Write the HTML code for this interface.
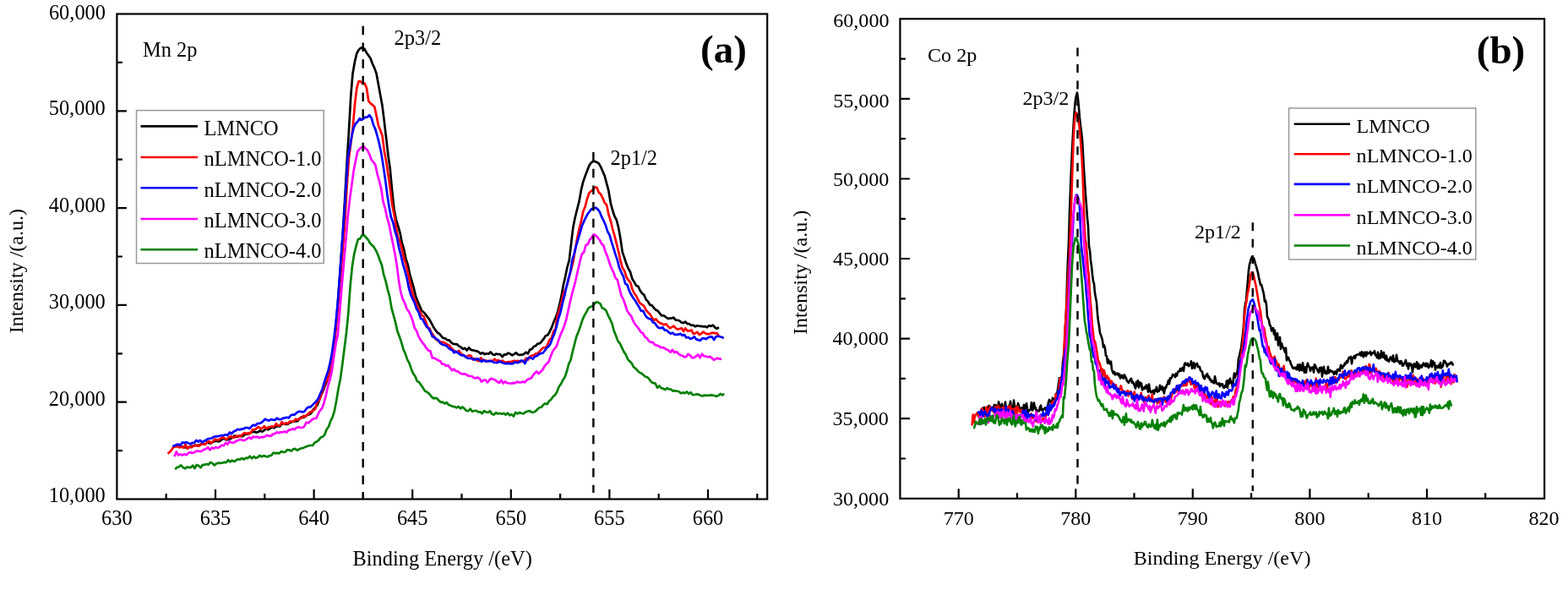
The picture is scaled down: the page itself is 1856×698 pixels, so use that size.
<!DOCTYPE html><html><head><meta charset="utf-8"><title>XPS spectra</title><style>html,body{margin:0;padding:0;background:#fff;}svg{display:block;filter:blur(0.35px);}text{font-family:"Liberation Serif","Times New Roman",serif;fill:#000;}</style></head><body>
<svg width="1856" height="698" viewBox="0 0 1856 698">
<rect x="0" y="0" width="1856" height="698" fill="#ffffff"/>
<path d="M205.5 527.4 L207.8 527.8 L210.2 527.8 L212.5 528.9 L214.8 528.4 L217.2 528.8 L219.5 529.5 L221.8 529.6 L224.1 529.2 L226.5 528.1 L228.8 527.4 L231.1 526.9 L233.5 526.8 L235.8 526.6 L238.1 525.2 L240.5 524.6 L242.8 525.7 L245.1 523.1 L247.4 524.3 L249.8 524.5 L252.1 522.6 L254.4 521.9 L256.8 521.7 L259.1 522.4 L261.4 521.0 L263.8 518.7 L266.1 519.5 L268.4 520.4 L270.7 519.8 L273.1 518.9 L275.4 517.6 L277.7 515.4 L280.1 516.9 L282.4 515.9 L284.7 515.5 L287.1 516.3 L289.4 514.2 L291.7 513.7 L294.0 513.4 L296.4 512.0 L298.7 511.1 L301.0 510.6 L303.4 511.7 L305.7 511.0 L308.0 509.5 L310.4 510.7 L312.7 509.1 L315.0 507.0 L317.3 508.3 L319.7 507.0 L322.0 505.1 L324.3 506.3 L326.7 504.8 L329.0 504.1 L331.3 504.5 L333.7 501.2 L336.0 501.5 L338.3 501.8 L340.6 501.8 L343.0 500.2 L345.3 499.2 L347.6 498.3 L350.0 498.4 L352.3 498.2 L354.6 495.1 L357.0 493.4 L359.3 493.9 L361.6 492.5 L363.9 490.5 L366.3 490.3 L368.6 488.4 L370.9 484.5 L373.3 481.9 L375.6 479.3 L377.9 473.6 L380.3 467.0 L382.6 462.3 L384.9 455.6 L387.2 450.4 L389.6 441.3 L391.9 430.2 L394.2 415.8 L396.6 395.5 L398.9 370.6 L401.2 340.6 L403.6 308.4 L405.9 273.7 L408.2 235.0 L410.5 193.5 L412.9 156.2 L415.2 114.7 L417.5 87.2 L419.9 73.3 L422.2 63.5 L424.5 59.1 L426.9 56.8 L429.2 56.4 L431.5 57.9 L433.8 62.3 L436.2 65.6 L438.5 69.0 L440.8 75.3 L443.2 80.4 L445.5 86.7 L447.8 99.2 L450.2 112.6 L452.5 125.1 L454.8 143.4 L457.1 163.2 L459.5 184.0 L461.8 200.3 L464.1 225.3 L466.5 247.4 L468.8 259.6 L471.1 267.0 L473.5 275.3 L475.8 287.5 L478.1 294.7 L480.4 306.1 L482.8 313.3 L485.1 324.7 L487.4 332.4 L489.8 340.7 L492.1 350.6 L494.4 356.2 L496.8 361.9 L499.1 367.6 L501.4 369.3 L503.7 371.9 L506.1 375.1 L508.4 378.2 L510.7 382.3 L513.1 387.0 L515.4 390.4 L517.7 393.5 L520.1 394.9 L522.4 397.7 L524.7 400.0 L527.0 400.3 L529.4 402.3 L531.7 402.4 L534.0 405.2 L536.4 406.9 L538.7 407.1 L541.0 407.3 L543.4 409.6 L545.7 410.7 L548.0 412.9 L550.3 411.8 L552.7 414.5 L555.0 411.2 L557.3 413.9 L559.7 414.3 L562.0 414.9 L564.3 415.3 L566.7 416.4 L569.0 418.6 L571.3 417.3 L573.6 419.1 L576.0 418.2 L578.3 418.7 L580.6 416.5 L583.0 419.2 L585.3 420.0 L587.6 418.5 L590.0 419.2 L592.3 419.2 L594.6 422.2 L596.9 419.3 L599.3 419.6 L601.6 417.6 L603.9 418.7 L606.3 420.4 L608.6 418.9 L610.9 417.3 L613.3 419.7 L615.6 419.9 L617.9 419.7 L620.2 418.9 L622.6 416.7 L624.9 418.5 L627.2 413.6 L629.6 413.0 L631.9 409.9 L634.2 409.0 L636.6 406.5 L638.9 406.4 L641.2 403.8 L643.5 400.9 L645.9 397.2 L648.2 396.5 L650.5 392.7 L652.9 387.7 L655.2 381.4 L657.5 376.4 L659.9 369.8 L662.2 360.7 L664.5 350.4 L666.8 337.2 L669.2 327.2 L671.5 315.8 L673.8 307.9 L676.2 287.0 L678.5 268.2 L680.8 257.0 L683.2 247.3 L685.5 238.4 L687.8 225.4 L690.1 215.6 L692.5 208.6 L694.8 202.7 L697.1 196.5 L699.5 192.7 L701.8 190.9 L704.1 190.9 L706.5 192.0 L708.8 193.4 L711.1 197.4 L713.4 202.8 L715.8 208.3 L718.1 217.2 L720.4 225.7 L722.8 240.2 L725.1 248.8 L727.4 255.7 L729.8 260.3 L732.1 269.2 L734.4 282.2 L736.7 298.1 L739.1 305.1 L741.4 312.1 L743.7 317.8 L746.1 321.8 L748.4 330.0 L750.7 333.6 L753.1 337.9 L755.4 338.8 L757.7 343.8 L760.0 347.1 L762.4 348.9 L764.7 354.4 L767.0 356.7 L769.4 360.8 L771.7 361.2 L774.0 364.4 L776.4 366.7 L778.7 367.8 L781.0 370.9 L783.3 373.5 L785.7 373.4 L788.0 375.0 L790.3 376.8 L792.7 376.6 L795.0 376.4 L797.3 375.7 L799.7 378.7 L802.0 378.8 L804.3 379.5 L806.6 381.5 L809.0 382.1 L811.3 380.7 L813.6 383.2 L816.0 383.2 L818.3 385.0 L820.6 384.7 L823.0 386.3 L825.3 385.2 L827.6 385.8 L829.9 385.9 L832.3 386.3 L834.6 386.1 L836.9 387.4 L839.3 385.0 L841.6 385.9 L843.9 384.7 L846.3 387.5 L848.6 388.8 L850.9 387.1" fill="none" stroke="#000000" stroke-width="2.7" stroke-linejoin="round"/>
<path d="M198.6 536.7 L200.9 534.8 L203.3 532.1 L205.6 528.6 L207.9 528.4 L210.3 527.9 L212.6 529.5 L214.9 528.5 L217.2 529.7 L219.6 525.8 L221.9 530.9 L224.2 528.3 L226.6 529.3 L228.9 527.7 L231.2 526.8 L233.6 527.6 L235.9 527.6 L238.2 525.6 L240.5 525.2 L242.9 526.0 L245.2 523.2 L247.5 521.8 L249.9 524.2 L252.2 522.0 L254.5 519.5 L256.9 520.5 L259.2 520.2 L261.5 518.4 L263.8 517.2 L266.2 518.9 L268.5 519.6 L270.8 517.4 L273.2 516.2 L275.5 517.5 L277.8 517.6 L280.2 515.5 L282.5 516.2 L284.8 516.3 L287.1 513.8 L289.5 512.1 L291.8 513.1 L294.1 512.2 L296.5 512.7 L298.8 508.3 L301.1 508.3 L303.5 507.1 L305.8 504.9 L308.1 506.8 L310.4 506.7 L312.8 504.1 L315.1 506.9 L317.4 505.6 L319.8 505.0 L322.1 504.4 L324.4 505.0 L326.8 501.2 L329.1 503.7 L331.4 503.2 L333.7 499.2 L336.1 501.8 L338.4 500.3 L340.7 501.2 L343.1 498.7 L345.4 498.6 L347.7 498.4 L350.1 495.7 L352.4 496.9 L354.7 494.8 L357.0 494.6 L359.4 491.8 L361.7 492.9 L364.0 490.7 L366.4 487.8 L368.7 486.9 L371.0 485.4 L373.4 483.4 L375.7 474.8 L378.0 473.4 L380.3 466.7 L382.7 459.6 L385.0 452.4 L387.3 449.9 L389.7 438.8 L392.0 432.3 L394.3 421.2 L396.7 397.7 L399.0 376.3 L401.3 347.9 L403.6 320.9 L406.0 292.1 L408.3 261.5 L410.6 220.7 L413.0 187.4 L415.3 169.6 L417.6 151.2 L420.0 123.6 L422.3 104.1 L424.6 96.1 L426.9 96.4 L429.3 99.0 L431.6 98.6 L433.9 103.9 L436.3 119.7 L438.6 122.5 L440.9 124.0 L443.3 126.4 L445.6 136.8 L447.9 148.5 L450.2 154.0 L452.6 160.9 L454.9 178.9 L457.2 191.3 L459.6 207.6 L461.9 223.9 L464.2 242.3 L466.6 254.0 L468.9 269.2 L471.2 281.4 L473.5 286.0 L475.9 295.3 L478.2 306.0 L480.5 312.9 L482.9 323.4 L485.2 333.4 L487.5 343.6 L489.9 352.5 L492.2 357.1 L494.5 364.0 L496.8 367.2 L499.2 373.2 L501.5 374.2 L503.8 379.7 L506.2 387.1 L508.5 388.7 L510.8 393.8 L513.2 397.0 L515.5 401.0 L517.8 402.6 L520.1 404.8 L522.5 404.5 L524.8 404.9 L527.1 406.0 L529.5 407.7 L531.8 408.5 L534.1 411.4 L536.5 414.0 L538.8 416.2 L541.1 416.5 L543.4 415.0 L545.8 418.6 L548.1 419.8 L550.4 421.8 L552.8 421.6 L555.1 420.4 L557.4 420.8 L559.8 425.5 L562.1 424.1 L564.4 426.3 L566.7 427.3 L569.1 423.5 L571.4 425.8 L573.7 426.3 L576.1 426.9 L578.4 427.2 L580.7 426.9 L583.1 427.0 L585.4 424.7 L587.7 426.8 L590.0 426.1 L592.4 427.5 L594.7 426.7 L597.0 428.4 L599.4 428.7 L601.7 428.0 L604.0 428.0 L606.4 427.6 L608.7 426.8 L611.0 427.3 L613.3 426.8 L615.7 428.1 L618.0 427.3 L620.3 427.5 L622.7 423.6 L625.0 425.6 L627.3 421.8 L629.7 420.6 L632.0 420.2 L634.3 418.4 L636.6 418.3 L639.0 415.4 L641.3 412.8 L643.6 411.0 L646.0 411.8 L648.3 407.0 L650.6 401.8 L653.0 399.4 L655.3 391.6 L657.6 388.8 L659.9 372.9 L662.3 365.7 L664.6 357.7 L666.9 347.2 L669.3 342.6 L671.6 335.9 L673.9 327.0 L676.3 318.1 L678.6 309.1 L680.9 294.8 L683.2 282.1 L685.6 270.6 L687.9 261.9 L690.2 250.4 L692.6 244.6 L694.9 235.5 L697.2 228.7 L699.6 226.1 L701.9 224.6 L704.2 221.5 L706.5 221.8 L708.9 227.9 L711.2 229.8 L713.5 234.6 L715.9 240.2 L718.2 242.7 L720.5 254.2 L722.9 261.5 L725.2 271.0 L727.5 279.2 L729.8 288.3 L732.2 297.9 L734.5 308.7 L736.8 316.9 L739.2 320.5 L741.5 327.8 L743.8 331.4 L746.2 334.2 L748.5 342.3 L750.8 347.2 L753.1 350.0 L755.5 355.0 L757.8 359.1 L760.1 360.3 L762.5 362.3 L764.8 367.0 L767.1 369.6 L769.5 371.8 L771.8 375.9 L774.1 378.9 L776.4 377.4 L778.8 380.5 L781.1 382.1 L783.4 382.9 L785.8 384.4 L788.1 383.1 L790.4 385.6 L792.8 388.2 L795.1 387.1 L797.4 385.6 L799.7 388.1 L802.1 389.7 L804.4 389.0 L806.7 388.2 L809.1 392.0 L811.4 388.3 L813.7 391.6 L816.1 391.4 L818.4 390.4 L820.7 394.9 L823.0 394.4 L825.4 392.8 L827.7 396.0 L830.0 394.8 L832.4 392.6 L834.7 394.2 L837.0 395.2 L839.4 395.2 L841.7 394.1 L844.0 393.6 L846.3 394.3 L848.7 394.2 L851.0 397.7" fill="none" stroke="#ff0000" stroke-width="2.7" stroke-linejoin="round"/>
<path d="M204.3 528.0 L206.6 527.4 L209.0 526.0 L211.3 525.7 L213.6 526.6 L216.0 523.4 L218.3 524.0 L220.6 523.1 L222.9 524.3 L225.3 525.3 L227.6 523.9 L229.9 524.0 L232.3 520.9 L234.6 522.6 L236.9 520.9 L239.3 523.2 L241.6 521.6 L243.9 520.9 L246.2 519.0 L248.6 518.9 L250.9 518.3 L253.2 516.7 L255.6 516.2 L257.9 516.3 L260.2 515.5 L262.6 515.2 L264.9 515.1 L267.2 514.2 L269.5 515.1 L271.9 511.5 L274.2 513.2 L276.5 510.5 L278.9 509.6 L281.2 507.8 L283.5 508.4 L285.9 507.6 L288.2 507.4 L290.5 506.0 L292.8 506.0 L295.2 507.1 L297.5 504.7 L299.8 502.7 L302.2 503.4 L304.5 501.2 L306.8 501.0 L309.2 500.1 L311.5 498.2 L313.8 495.8 L316.1 497.0 L318.5 497.6 L320.8 496.1 L323.1 496.7 L325.5 496.9 L327.8 494.7 L330.1 496.2 L332.5 496.1 L334.8 494.9 L337.1 494.4 L339.4 493.8 L341.8 494.4 L344.1 491.5 L346.4 490.6 L348.8 490.6 L351.1 488.3 L353.4 486.9 L355.8 486.9 L358.1 487.5 L360.4 486.7 L362.7 483.4 L365.1 481.7 L367.4 481.6 L369.7 479.4 L372.1 476.9 L374.4 474.7 L376.7 471.6 L379.1 465.8 L381.4 460.8 L383.7 452.9 L386.0 445.7 L388.4 438.9 L390.7 429.4 L393.0 417.0 L395.4 399.8 L397.7 379.6 L400.0 355.3 L402.4 321.8 L404.7 290.0 L407.0 260.2 L409.3 224.7 L411.7 186.9 L414.0 174.4 L416.3 161.3 L418.7 151.0 L421.0 146.1 L423.3 144.0 L425.7 140.1 L428.0 142.0 L430.3 140.3 L432.6 138.7 L435.0 138.7 L437.3 136.2 L439.6 139.5 L442.0 147.7 L444.3 152.9 L446.6 161.0 L449.0 170.2 L451.3 181.1 L453.6 195.6 L455.9 211.2 L458.3 229.7 L460.6 244.8 L462.9 257.0 L465.3 263.6 L467.6 273.6 L469.9 280.9 L472.3 293.6 L474.6 302.2 L476.9 312.3 L479.2 320.2 L481.6 329.1 L483.9 340.7 L486.2 348.8 L488.6 353.9 L490.9 358.8 L493.2 365.7 L495.6 369.3 L497.9 376.8 L500.2 377.7 L502.5 382.1 L504.9 386.5 L507.2 388.4 L509.5 392.5 L511.9 398.3 L514.2 399.1 L516.5 401.0 L518.9 402.4 L521.2 406.0 L523.5 407.5 L525.8 408.3 L528.2 408.9 L530.5 411.2 L532.8 413.2 L535.2 414.0 L537.5 417.3 L539.8 415.7 L542.2 417.6 L544.5 419.6 L546.8 420.6 L549.1 420.2 L551.5 422.5 L553.8 423.9 L556.1 423.8 L558.5 424.1 L560.8 425.3 L563.1 425.4 L565.5 424.3 L567.8 425.9 L570.1 428.0 L572.4 425.9 L574.8 427.6 L577.1 427.5 L579.4 427.2 L581.8 427.2 L584.1 428.6 L586.4 429.0 L588.8 429.2 L591.1 427.4 L593.4 428.7 L595.7 429.5 L598.1 430.2 L600.4 429.9 L602.7 430.1 L605.1 430.4 L607.4 430.1 L609.7 428.3 L612.1 429.3 L614.4 428.4 L616.7 426.6 L619.0 426.9 L621.4 430.1 L623.7 425.4 L626.0 422.9 L628.4 423.4 L630.7 424.6 L633.0 421.8 L635.4 421.2 L637.7 419.2 L640.0 418.0 L642.3 417.8 L644.7 415.2 L647.0 411.7 L649.3 409.9 L651.7 406.4 L654.0 399.9 L656.3 394.4 L658.7 386.8 L661.0 377.0 L663.3 370.1 L665.6 360.0 L668.0 350.7 L670.3 340.2 L672.6 330.6 L675.0 322.0 L677.3 307.9 L679.6 300.3 L682.0 290.8 L684.3 283.2 L686.6 275.4 L688.9 267.2 L691.3 261.7 L693.6 256.9 L695.9 252.7 L698.3 249.5 L700.6 247.0 L702.9 246.2 L705.3 245.7 L707.6 247.6 L709.9 250.8 L712.2 256.7 L714.6 261.2 L716.9 266.7 L719.2 273.8 L721.6 278.1 L723.9 286.4 L726.2 293.4 L728.6 301.4 L730.9 308.1 L733.2 317.3 L735.5 322.4 L737.9 327.4 L740.2 335.6 L742.5 337.0 L744.9 344.2 L747.2 348.8 L749.5 352.5 L751.9 355.6 L754.2 359.7 L756.5 363.2 L758.8 368.0 L761.2 367.7 L763.5 372.5 L765.8 375.6 L768.2 377.0 L770.5 377.6 L772.8 381.2 L775.2 382.3 L777.5 385.7 L779.8 388.0 L782.1 388.1 L784.5 387.4 L786.8 390.6 L789.1 390.7 L791.5 393.1 L793.8 394.7 L796.1 393.6 L798.5 395.9 L800.8 395.9 L803.1 395.7 L805.4 394.8 L807.8 396.9 L810.1 396.0 L812.4 399.5 L814.8 399.0 L817.1 400.9 L819.4 400.2 L821.8 398.2 L824.1 401.4 L826.4 402.1 L828.7 403.1 L831.1 400.3 L833.4 400.3 L835.7 401.1 L838.1 399.4 L840.4 398.5 L842.7 398.3 L845.1 402.0 L847.4 398.2 L849.7 397.7 L852.0 398.3 L854.4 398.8 L856.7 400.2" fill="none" stroke="#0000ff" stroke-width="2.7" stroke-linejoin="round"/>
<path d="M206.5 540.0 L208.8 534.4 L211.2 538.6 L213.5 537.4 L215.8 538.5 L218.2 537.1 L220.5 538.4 L222.8 536.1 L225.1 535.1 L227.5 535.9 L229.8 535.3 L232.1 533.9 L234.5 533.5 L236.8 534.1 L239.1 533.5 L241.5 531.7 L243.8 531.2 L246.1 529.1 L248.4 532.3 L250.8 529.6 L253.1 530.6 L255.4 529.0 L257.8 529.9 L260.1 528.7 L262.4 526.7 L264.8 527.2 L267.1 523.9 L269.4 525.7 L271.7 522.1 L274.1 523.6 L276.4 523.8 L278.7 522.3 L281.1 521.2 L283.4 520.2 L285.7 520.2 L288.1 521.2 L290.4 520.5 L292.7 518.8 L295.0 517.4 L297.4 519.1 L299.7 516.5 L302.0 517.2 L304.4 516.7 L306.7 518.1 L309.0 517.2 L311.4 517.1 L313.7 516.5 L316.0 514.9 L318.3 515.7 L320.7 516.0 L323.0 513.5 L325.3 513.2 L327.7 511.4 L330.0 512.1 L332.3 511.4 L334.7 511.3 L337.0 510.4 L339.3 511.5 L341.6 508.9 L344.0 508.4 L346.3 507.4 L348.6 508.1 L351.0 506.0 L353.3 505.2 L355.6 506.0 L358.0 505.8 L360.3 504.3 L362.6 499.7 L364.9 500.3 L367.3 498.5 L369.6 496.3 L371.9 495.0 L374.3 495.0 L376.6 489.7 L378.9 485.7 L381.3 482.9 L383.6 476.2 L385.9 467.3 L388.2 456.8 L390.6 448.7 L392.9 438.8 L395.2 422.1 L397.6 406.3 L399.9 395.6 L402.2 368.0 L404.6 338.7 L406.9 312.0 L409.2 286.7 L411.5 258.6 L413.9 236.4 L416.2 220.0 L418.5 202.8 L420.9 190.2 L423.2 179.4 L425.5 176.4 L427.9 174.5 L430.2 172.9 L432.5 175.5 L434.8 177.5 L437.2 182.3 L439.5 188.8 L441.8 191.6 L444.2 194.7 L446.5 205.3 L448.8 213.6 L451.2 222.9 L453.5 238.5 L455.8 246.1 L458.1 257.0 L460.5 265.2 L462.8 277.2 L465.1 288.3 L467.5 300.5 L469.8 313.9 L472.1 332.8 L474.5 346.3 L476.8 354.0 L479.1 358.4 L481.4 365.2 L483.8 368.4 L486.1 373.0 L488.4 379.2 L490.8 388.2 L493.1 391.4 L495.4 397.9 L497.8 402.0 L500.1 405.5 L502.4 408.2 L504.7 411.8 L507.1 414.7 L509.4 415.4 L511.7 423.3 L514.1 423.7 L516.4 424.8 L518.7 426.3 L521.1 427.3 L523.4 430.7 L525.7 430.8 L528.0 432.9 L530.4 432.0 L532.7 435.2 L535.0 438.1 L537.4 436.8 L539.7 439.0 L542.0 439.3 L544.4 441.4 L546.7 442.4 L549.0 442.3 L551.3 442.6 L553.7 444.4 L556.0 445.0 L558.3 445.0 L560.7 446.9 L563.0 447.4 L565.3 446.5 L567.7 447.9 L570.0 451.7 L572.3 449.8 L574.6 449.5 L577.0 452.5 L579.3 449.6 L581.6 447.7 L584.0 448.7 L586.3 449.5 L588.6 451.8 L591.0 452.9 L593.3 449.7 L595.6 453.6 L597.9 451.3 L600.3 453.1 L602.6 453.5 L604.9 453.6 L607.3 453.2 L609.6 453.3 L611.9 451.5 L614.3 452.5 L616.6 452.5 L618.9 451.5 L621.2 452.4 L623.6 449.7 L625.9 448.2 L628.2 447.8 L630.6 444.7 L632.9 441.6 L635.2 439.4 L637.6 442.0 L639.9 439.7 L642.2 437.7 L644.5 433.3 L646.9 430.6 L649.2 428.5 L651.5 422.5 L653.9 416.3 L656.2 412.6 L658.5 410.3 L660.9 403.1 L663.2 396.6 L665.5 391.6 L667.8 385.7 L670.2 378.3 L672.5 367.5 L674.8 357.1 L677.2 347.2 L679.5 339.2 L681.8 329.8 L684.2 319.0 L686.5 309.1 L688.8 300.4 L691.1 298.4 L693.5 290.0 L695.8 289.1 L698.1 283.5 L700.5 280.8 L702.8 277.1 L705.1 278.5 L707.5 281.1 L709.8 284.0 L712.1 288.4 L714.4 290.5 L716.8 298.4 L719.1 303.6 L721.4 311.0 L723.8 317.4 L726.1 321.8 L728.4 328.6 L730.8 331.0 L733.1 340.0 L735.4 349.6 L737.7 353.9 L740.1 360.5 L742.4 367.6 L744.7 371.4 L747.1 373.8 L749.4 379.5 L751.7 383.5 L754.1 386.4 L756.4 389.5 L758.7 393.0 L761.0 394.2 L763.4 398.7 L765.7 399.9 L768.0 403.4 L770.4 405.0 L772.7 404.9 L775.0 407.8 L777.4 408.6 L779.7 409.2 L782.0 411.1 L784.3 410.9 L786.7 412.0 L789.0 413.4 L791.3 414.4 L793.7 416.8 L796.0 413.9 L798.3 417.1 L800.7 416.0 L803.0 418.5 L805.3 420.2 L807.6 420.7 L810.0 422.4 L812.3 422.1 L814.6 418.8 L817.0 420.6 L819.3 423.4 L821.6 423.2 L824.0 421.4 L826.3 419.4 L828.6 423.4 L830.9 418.6 L833.3 421.4 L835.6 421.5 L837.9 422.5 L840.3 421.8 L842.6 423.5 L844.9 425.9 L847.3 424.6 L849.6 423.7 L851.9 424.9 L854.2 424.5" fill="none" stroke="#ff00ff" stroke-width="2.7" stroke-linejoin="round"/>
<path d="M207.2 555.3 L209.5 553.1 L211.9 552.2 L214.2 550.4 L216.5 552.9 L218.9 554.3 L221.2 552.7 L223.5 552.9 L225.8 553.1 L228.2 550.6 L230.5 554.2 L232.8 549.9 L235.2 551.0 L237.5 553.3 L239.8 549.9 L242.2 549.9 L244.5 549.0 L246.8 549.7 L249.1 546.8 L251.5 548.2 L253.8 550.5 L256.1 548.5 L258.5 547.7 L260.8 547.9 L263.1 547.6 L265.5 546.9 L267.8 547.1 L270.1 544.3 L272.4 546.4 L274.8 544.7 L277.1 546.0 L279.4 544.7 L281.8 543.2 L284.1 543.7 L286.4 542.0 L288.8 543.5 L291.1 541.7 L293.4 542.1 L295.7 539.6 L298.1 542.4 L300.4 540.1 L302.7 541.8 L305.1 541.1 L307.4 538.8 L309.7 540.3 L312.1 539.1 L314.4 539.9 L316.7 540.5 L319.0 539.1 L321.4 538.7 L323.7 535.5 L326.0 536.3 L328.4 535.9 L330.7 536.3 L333.0 534.1 L335.4 535.0 L337.7 534.6 L340.0 532.1 L342.3 532.3 L344.7 533.6 L347.0 531.4 L349.3 530.9 L351.7 532.7 L354.0 531.5 L356.3 530.4 L358.7 530.1 L361.0 528.9 L363.3 528.0 L365.6 527.2 L368.0 527.0 L370.3 526.8 L372.6 523.4 L375.0 522.4 L377.3 520.6 L379.6 517.5 L382.0 516.8 L384.3 514.2 L386.6 508.0 L388.9 505.0 L391.3 498.1 L393.6 493.7 L395.9 486.1 L398.3 473.4 L400.6 459.3 L402.9 448.3 L405.3 430.7 L407.6 412.5 L409.9 394.5 L412.2 371.9 L414.6 338.4 L416.9 315.0 L419.2 300.6 L421.6 290.9 L423.9 283.0 L426.2 282.4 L428.6 278.3 L430.9 278.2 L433.2 280.8 L435.5 283.4 L437.9 287.5 L440.2 289.9 L442.5 292.1 L444.9 296.1 L447.2 301.0 L449.5 307.5 L451.9 313.6 L454.2 324.9 L456.5 332.4 L458.8 342.3 L461.2 350.9 L463.5 364.7 L465.8 372.9 L468.2 381.9 L470.5 392.2 L472.8 398.3 L475.2 405.1 L477.5 413.5 L479.8 418.4 L482.1 425.4 L484.5 429.7 L486.8 436.4 L489.1 441.9 L491.5 445.3 L493.8 451.1 L496.1 452.3 L498.5 455.8 L500.8 459.1 L503.1 462.8 L505.4 463.7 L507.8 465.6 L510.1 468.3 L512.4 471.1 L514.8 470.8 L517.1 471.2 L519.4 473.8 L521.8 475.9 L524.1 475.7 L526.4 477.5 L528.7 476.2 L531.1 479.0 L533.4 479.8 L535.7 480.9 L538.1 481.2 L540.4 482.3 L542.7 480.9 L545.1 483.4 L547.4 481.5 L549.7 483.4 L552.0 485.9 L554.4 486.2 L556.7 483.7 L559.0 486.8 L561.4 486.0 L563.7 485.9 L566.0 487.3 L568.4 487.4 L570.7 489.1 L573.0 486.1 L575.3 487.5 L577.7 488.0 L580.0 486.3 L582.3 489.8 L584.7 490.6 L587.0 488.2 L589.3 489.5 L591.7 489.0 L594.0 489.8 L596.3 488.9 L598.6 490.7 L601.0 488.6 L603.3 491.4 L605.6 490.3 L608.0 492.5 L610.3 487.9 L612.6 489.5 L615.0 488.0 L617.3 489.0 L619.6 489.4 L621.9 487.6 L624.3 486.7 L626.6 486.0 L628.9 487.5 L631.3 487.9 L633.6 486.8 L635.9 484.5 L638.3 482.3 L640.6 481.8 L642.9 479.1 L645.2 477.3 L647.6 478.2 L649.9 474.5 L652.2 472.7 L654.6 469.2 L656.9 467.5 L659.2 463.8 L661.6 457.5 L663.9 454.4 L666.2 449.8 L668.5 446.3 L670.9 439.5 L673.2 430.6 L675.5 426.0 L677.9 415.5 L680.2 406.4 L682.5 397.7 L684.9 392.0 L687.2 385.4 L689.5 378.1 L691.8 373.1 L694.2 369.1 L696.5 364.5 L698.8 363.1 L701.2 362.2 L703.5 359.5 L705.8 357.4 L708.2 357.8 L710.5 359.3 L712.8 364.5 L715.1 365.3 L717.5 367.6 L719.8 373.2 L722.1 377.5 L724.5 383.0 L726.8 391.5 L729.1 397.2 L731.5 403.6 L733.8 406.3 L736.1 411.1 L738.4 416.1 L740.8 419.5 L743.1 425.1 L745.4 427.5 L747.8 429.9 L750.1 434.4 L752.4 435.8 L754.8 438.7 L757.1 440.7 L759.4 441.8 L761.7 443.7 L764.1 445.7 L766.4 446.3 L768.7 448.9 L771.1 452.0 L773.4 453.2 L775.7 453.6 L778.1 458.8 L780.4 456.4 L782.7 459.1 L785.0 459.8 L787.4 461.0 L789.7 459.1 L792.0 460.5 L794.4 460.7 L796.7 462.6 L799.0 462.2 L801.4 462.7 L803.7 463.3 L806.0 465.3 L808.3 464.4 L810.7 465.1 L813.0 463.5 L815.3 465.8 L817.7 464.2 L820.0 467.2 L822.3 467.0 L824.7 466.4 L827.0 466.6 L829.3 468.0 L831.6 468.4 L834.0 467.6 L836.3 467.8 L838.6 467.8 L841.0 467.4 L843.3 467.7 L845.6 468.0 L848.0 469.0 L850.3 467.9 L852.6 465.9 L854.9 467.4 L857.3 465.8" fill="none" stroke="#008000" stroke-width="2.7" stroke-linejoin="round"/>
<line x1="429.7" y1="30.8" x2="429.7" y2="590.5" stroke="#000" stroke-width="2.4" stroke-dasharray="10.5 9.19"/>
<line x1="702.4" y1="180" x2="702.4" y2="583" stroke="#000" stroke-width="2.4" stroke-dasharray="10.5 9.19"/>
<rect x="138.4" y="16.5" width="769.8" height="574" fill="none" stroke="#000" stroke-width="2.2"/>
<path d="M196.7 590.5V584M255 590.5V579M313.3 590.5V584M371.6 590.5V579M429.9 590.5V584M488.2 590.5V579M546.5 590.5V584M604.8 590.5V579M663.1 590.5V584M721.4 590.5V579M779.7 590.5V584M838 590.5V579M896.3 590.5V584M138.4 533.1H144.9M138.4 475.7H149.9M138.4 418.3H144.9M138.4 360.9H149.9M138.4 303.5H144.9M138.4 246.1H149.9M138.4 188.7H144.9M138.4 131.3H149.9M138.4 73.9H144.9" stroke="#000" stroke-width="2.2" fill="none"/>
<text x="138.4" y="621" font-size="24.4" text-anchor="middle">630</text>
<text x="255" y="621" font-size="24.4" text-anchor="middle">635</text>
<text x="371.6" y="621" font-size="24.4" text-anchor="middle">640</text>
<text x="488.2" y="621" font-size="24.4" text-anchor="middle">645</text>
<text x="604.8" y="621" font-size="24.4" text-anchor="middle">650</text>
<text x="721.4" y="621" font-size="24.4" text-anchor="middle">655</text>
<text x="838" y="621" font-size="24.4" text-anchor="middle">660</text>
<text x="125" y="22.8" font-size="24.4" text-anchor="end">60,000</text>
<text x="124.8" y="135.6" font-size="24.4" text-anchor="end">50,000</text>
<text x="124.8" y="251.1" font-size="24.4" text-anchor="end">40,000</text>
<text x="124.8" y="364.6" font-size="24.4" text-anchor="end">30,000</text>
<text x="124.8" y="479.6" font-size="24.4" text-anchor="end">20,000</text>
<text x="124.8" y="593.5" font-size="24.4" text-anchor="end">10,000</text>
<rect x="161.5" y="130.6" width="221.7" height="180.9" fill="#fff" stroke="#999999" stroke-width="1.5"/>
<line x1="166.5" y1="149.4" x2="234" y2="149.4" stroke="#000000" stroke-width="2.6"/>
<text x="241.6" y="159.6" font-size="24.4">LMNCO</text>
<line x1="166.5" y1="186" x2="234" y2="186" stroke="#ff0000" stroke-width="2.6"/>
<text x="241.6" y="196.2" font-size="24.4">nLMNCO-1.0</text>
<line x1="166.5" y1="222.3" x2="234" y2="222.3" stroke="#0000ff" stroke-width="2.6"/>
<text x="241.6" y="232.5" font-size="24.4">nLMNCO-2.0</text>
<line x1="166.5" y1="259" x2="234" y2="259" stroke="#ff00ff" stroke-width="2.6"/>
<text x="241.6" y="269.2" font-size="24.4">nLMNCO-3.0</text>
<line x1="166.5" y1="295.2" x2="234" y2="295.2" stroke="#008000" stroke-width="2.6"/>
<text x="241.6" y="305.4" font-size="24.4">nLMNCO-4.0</text>
<text x="169" y="67" font-size="24.4">Mn 2p</text>
<text x="466.6" y="52.6" font-size="24.4">2p3/2</text>
<text x="722.5" y="195.1" font-size="24.4">2p1/2</text>
<text x="829" y="74.4" font-size="47" font-weight="bold">(a)</text>
<text x="417.5" y="668.5" font-size="24.4">Binding Energy /(eV)</text>
<text transform="translate(26.9 394.3) rotate(-90)" x="0" y="0" font-size="24">Intensity /(a.u.)</text>
<path d="M1157.0 489.0 L1158.0 492.3 L1159.0 491.8 L1160.0 487.9 L1161.0 487.7 L1162.0 484.6 L1163.0 482.9 L1164.0 482.6 L1165.0 481.9 L1166.0 487.2 L1167.0 484.0 L1168.0 484.3 L1169.0 481.9 L1170.0 480.5 L1171.0 480.0 L1172.0 481.0 L1173.0 485.1 L1174.0 483.3 L1175.0 481.9 L1176.0 482.4 L1177.0 478.9 L1178.0 486.6 L1179.0 479.4 L1180.0 483.0 L1181.0 489.1 L1182.0 475.4 L1183.0 478.7 L1184.0 480.6 L1185.0 483.0 L1186.0 477.7 L1187.0 482.0 L1188.0 482.5 L1189.0 483.1 L1190.0 475.6 L1191.0 484.4 L1192.0 487.1 L1193.0 483.7 L1194.0 480.3 L1195.0 480.6 L1196.0 474.7 L1197.0 483.7 L1198.0 486.7 L1199.0 484.2 L1200.0 473.6 L1201.0 481.0 L1202.0 481.9 L1203.0 480.8 L1204.0 485.1 L1205.0 477.1 L1206.0 480.0 L1207.0 483.8 L1208.0 484.9 L1209.0 482.5 L1210.0 485.1 L1211.0 483.5 L1212.0 478.9 L1213.0 485.8 L1214.0 480.5 L1215.0 477.3 L1216.0 483.3 L1217.0 487.5 L1218.0 485.2 L1219.0 485.5 L1220.0 483.5 L1221.0 476.1 L1222.0 485.5 L1223.0 484.4 L1224.0 476.6 L1225.0 482.7 L1226.0 482.3 L1227.0 488.2 L1228.0 485.6 L1229.0 486.3 L1230.0 486.2 L1231.0 481.6 L1232.0 479.7 L1233.0 485.4 L1234.0 484.1 L1235.0 484.6 L1236.0 483.8 L1237.0 482.5 L1238.0 485.1 L1239.0 483.5 L1240.0 480.6 L1241.0 476.2 L1242.0 472.9 L1243.0 474.5 L1244.0 476.1 L1245.0 476.9 L1246.0 470.8 L1247.0 472.0 L1248.0 471.6 L1249.0 473.5 L1250.0 465.7 L1251.0 467.1 L1252.0 461.0 L1253.0 453.8 L1254.0 447.3 L1255.0 450.4 L1256.0 446.8 L1257.0 445.1 L1258.0 427.9 L1259.0 421.4 L1260.0 408.4 L1261.0 386.9 L1262.0 367.4 L1263.0 335.5 L1264.0 307.2 L1265.0 286.7 L1266.0 251.4 L1267.0 224.7 L1268.0 199.9 L1269.0 177.9 L1270.0 159.0 L1271.0 142.7 L1272.0 128.4 L1273.0 117.8 L1274.0 113.0 L1275.0 109.6 L1276.0 116.6 L1277.0 127.9 L1278.0 139.4 L1279.0 148.5 L1280.0 156.3 L1281.0 164.9 L1282.0 182.4 L1283.0 200.4 L1284.0 215.3 L1285.0 230.5 L1286.0 243.4 L1287.0 257.4 L1288.0 267.6 L1289.0 291.0 L1290.0 296.0 L1291.0 307.9 L1292.0 315.1 L1293.0 324.7 L1294.0 332.6 L1295.0 335.5 L1296.0 346.8 L1297.0 352.2 L1298.0 357.5 L1299.0 371.2 L1300.0 380.1 L1301.0 385.4 L1302.0 393.8 L1303.0 396.2 L1304.0 399.2 L1305.0 402.8 L1306.0 410.6 L1307.0 408.5 L1308.0 412.1 L1309.0 420.8 L1310.0 421.2 L1311.0 429.7 L1312.0 425.6 L1313.0 429.1 L1314.0 430.3 L1315.0 427.7 L1316.0 437.1 L1317.0 439.7 L1318.0 441.9 L1319.0 439.8 L1320.0 443.4 L1321.0 441.9 L1322.0 442.9 L1323.0 441.6 L1324.0 444.2 L1325.0 442.5 L1326.0 447.6 L1327.0 444.4 L1328.0 443.9 L1329.0 447.1 L1330.0 447.7 L1331.0 443.4 L1332.0 445.7 L1333.0 447.5 L1334.0 450.8 L1335.0 451.7 L1336.0 452.9 L1337.0 450.3 L1338.0 449.1 L1339.0 447.8 L1340.0 452.7 L1341.0 451.6 L1342.0 454.4 L1343.0 456.5 L1344.0 459.7 L1345.0 451.8 L1346.0 456.4 L1347.0 450.3 L1348.0 458.5 L1349.0 452.3 L1350.0 455.8 L1351.0 453.4 L1352.0 461.4 L1353.0 458.9 L1354.0 460.2 L1355.0 457.6 L1356.0 459.5 L1357.0 455.6 L1358.0 457.8 L1359.0 463.6 L1360.0 454.6 L1361.0 460.6 L1362.0 464.3 L1363.0 464.2 L1364.0 463.4 L1365.0 461.8 L1366.0 465.9 L1367.0 461.4 L1368.0 462.3 L1369.0 457.7 L1370.0 463.6 L1371.0 461.8 L1372.0 462.6 L1373.0 455.8 L1374.0 458.6 L1375.0 461.1 L1376.0 457.4 L1377.0 462.0 L1378.0 465.4 L1379.0 458.5 L1380.0 459.1 L1381.0 455.6 L1382.0 454.4 L1383.0 450.1 L1384.0 454.3 L1385.0 447.2 L1386.0 448.0 L1387.0 446.3 L1388.0 443.1 L1389.0 443.4 L1390.0 443.9 L1391.0 446.1 L1392.0 441.9 L1393.0 444.6 L1394.0 440.8 L1395.0 439.2 L1396.0 439.3 L1397.0 436.2 L1398.0 438.8 L1399.0 435.8 L1400.0 434.9 L1401.0 439.0 L1402.0 430.6 L1403.0 429.5 L1404.0 431.4 L1405.0 432.0 L1406.0 429.9 L1407.0 433.2 L1408.0 431.6 L1409.0 431.8 L1410.0 427.2 L1411.0 435.9 L1412.0 431.5 L1413.0 429.0 L1414.0 435.7 L1415.0 432.1 L1416.0 430.4 L1417.0 430.0 L1418.0 434.1 L1419.0 433.6 L1420.0 434.0 L1421.0 438.1 L1422.0 439.2 L1423.0 439.6 L1424.0 445.1 L1425.0 447.5 L1426.0 448.3 L1427.0 444.0 L1428.0 444.4 L1429.0 442.2 L1430.0 446.6 L1431.0 445.4 L1432.0 449.3 L1433.0 448.7 L1434.0 451.9 L1435.0 450.5 L1436.0 452.5 L1437.0 453.4 L1438.0 445.3 L1439.0 449.8 L1440.0 454.0 L1441.0 453.8 L1442.0 454.8 L1443.0 453.3 L1444.0 457.2 L1445.0 454.2 L1446.0 455.1 L1447.0 454.3 L1448.0 458.4 L1449.0 458.8 L1450.0 456.4 L1451.0 457.6 L1452.0 450.5 L1453.0 458.9 L1454.0 450.1 L1455.0 453.7 L1456.0 447.9 L1457.0 452.6 L1458.0 451.8 L1459.0 458.7 L1460.0 448.1 L1461.0 441.5 L1462.0 446.6 L1463.0 442.0 L1464.0 442.7 L1465.0 437.0 L1466.0 423.9 L1467.0 421.6 L1468.0 416.1 L1469.0 412.0 L1470.0 404.5 L1471.0 396.1 L1472.0 385.5 L1473.0 367.4 L1474.0 359.0 L1475.0 355.8 L1476.0 343.2 L1477.0 331.9 L1478.0 319.7 L1479.0 312.9 L1480.0 309.6 L1481.0 305.9 L1482.0 303.8 L1483.0 304.8 L1484.0 305.5 L1485.0 308.2 L1486.0 312.5 L1487.0 315.1 L1488.0 318.8 L1489.0 322.7 L1490.0 328.0 L1491.0 332.4 L1492.0 336.9 L1493.0 336.7 L1494.0 340.2 L1495.0 344.1 L1496.0 348.4 L1497.0 356.8 L1498.0 355.4 L1499.0 360.7 L1500.0 374.7 L1501.0 376.7 L1502.0 378.9 L1503.0 384.8 L1504.0 385.4 L1505.0 391.4 L1506.0 390.8 L1507.0 388.0 L1508.0 395.7 L1509.0 390.7 L1510.0 401.9 L1511.0 399.6 L1512.0 394.2 L1513.0 408.5 L1514.0 401.7 L1515.0 398.9 L1516.0 412.9 L1517.0 406.2 L1518.0 409.8 L1519.0 411.0 L1520.0 413.6 L1521.0 416.7 L1522.0 411.6 L1523.0 426.4 L1524.0 422.7 L1525.0 422.7 L1526.0 426.5 L1527.0 426.9 L1528.0 430.9 L1529.0 432.5 L1530.0 435.2 L1531.0 435.9 L1532.0 434.9 L1533.0 436.2 L1534.0 434.5 L1535.0 437.2 L1536.0 431.8 L1537.0 431.6 L1538.0 438.6 L1539.0 431.4 L1540.0 437.1 L1541.0 438.1 L1542.0 429.4 L1543.0 436.6 L1544.0 440.8 L1545.0 434.4 L1546.0 440.8 L1547.0 432.9 L1548.0 429.7 L1549.0 433.6 L1550.0 433.9 L1551.0 439.0 L1552.0 435.7 L1553.0 434.5 L1554.0 434.5 L1555.0 440.6 L1556.0 431.2 L1557.0 432.8 L1558.0 435.3 L1559.0 436.9 L1560.0 439.2 L1561.0 440.7 L1562.0 435.3 L1563.0 439.0 L1564.0 434.5 L1565.0 445.7 L1566.0 438.0 L1567.0 433.9 L1568.0 441.4 L1569.0 438.9 L1570.0 442.3 L1571.0 441.5 L1572.0 433.9 L1573.0 441.3 L1574.0 438.2 L1575.0 438.0 L1576.0 439.6 L1577.0 439.2 L1578.0 440.2 L1579.0 442.7 L1580.0 439.5 L1581.0 439.9 L1582.0 442.8 L1583.0 437.2 L1584.0 438.3 L1585.0 436.5 L1586.0 438.8 L1587.0 431.7 L1588.0 434.2 L1589.0 435.6 L1590.0 432.6 L1591.0 432.7 L1592.0 429.5 L1593.0 430.3 L1594.0 427.1 L1595.0 428.8 L1596.0 425.1 L1597.0 422.9 L1598.0 423.7 L1599.0 421.8 L1600.0 430.4 L1601.0 424.2 L1602.0 422.6 L1603.0 421.1 L1604.0 424.0 L1605.0 420.0 L1606.0 420.0 L1607.0 419.3 L1608.0 419.6 L1609.0 419.5 L1610.0 417.1 L1611.0 420.7 L1612.0 416.2 L1613.0 420.7 L1614.0 422.3 L1615.0 416.8 L1616.0 416.9 L1617.0 421.3 L1618.0 416.5 L1619.0 418.5 L1620.0 418.0 L1621.0 417.6 L1622.0 415.9 L1623.0 420.1 L1624.0 418.5 L1625.0 417.2 L1626.0 417.5 L1627.0 415.2 L1628.0 420.2 L1629.0 420.0 L1630.0 423.2 L1631.0 416.7 L1632.0 424.2 L1633.0 419.7 L1634.0 423.6 L1635.0 415.3 L1636.0 421.3 L1637.0 422.8 L1638.0 417.1 L1639.0 423.4 L1640.0 425.5 L1641.0 420.7 L1642.0 426.6 L1643.0 425.5 L1644.0 427.7 L1645.0 424.2 L1646.0 422.4 L1647.0 424.6 L1648.0 427.0 L1649.0 420.5 L1650.0 428.3 L1651.0 427.5 L1652.0 427.4 L1653.0 419.8 L1654.0 425.4 L1655.0 427.9 L1656.0 427.6 L1657.0 430.4 L1658.0 427.1 L1659.0 427.6 L1660.0 432.7 L1661.0 432.3 L1662.0 429.9 L1663.0 429.1 L1664.0 425.9 L1665.0 432.6 L1666.0 430.0 L1667.0 436.5 L1668.0 429.9 L1669.0 432.1 L1670.0 430.3 L1671.0 433.3 L1672.0 440.4 L1673.0 431.8 L1674.0 430.3 L1675.0 434.2 L1676.0 434.0 L1677.0 428.3 L1678.0 436.2 L1679.0 430.4 L1680.0 436.2 L1681.0 433.8 L1682.0 432.0 L1683.0 434.5 L1684.0 431.7 L1685.0 429.5 L1686.0 431.7 L1687.0 433.2 L1688.0 429.9 L1689.0 433.5 L1690.0 430.2 L1691.0 435.1 L1692.0 433.3 L1693.0 432.4 L1694.0 426.4 L1695.0 434.2 L1696.0 427.2 L1697.0 431.4 L1698.0 429.1 L1699.0 437.6 L1700.0 432.9 L1701.0 433.8 L1702.0 434.9 L1703.0 431.9 L1704.0 435.0 L1705.0 429.0 L1706.0 435.4 L1707.0 434.4 L1708.0 432.8 L1709.0 426.8 L1710.0 427.0 L1711.0 428.7 L1712.0 430.5 L1713.0 433.5 L1714.0 430.8 L1715.0 430.6 L1716.0 430.9 L1717.0 429.0 L1718.0 428.5 L1719.0 429.6 L1720.0 432.7" fill="none" stroke="#000000" stroke-width="2.6" stroke-linejoin="round"/>
<path d="M1149.7 503.0 L1150.7 502.2 L1151.7 490.6 L1152.7 499.8 L1153.7 493.7 L1154.7 490.6 L1155.7 490.0 L1156.7 488.5 L1157.7 490.6 L1158.7 493.3 L1159.7 491.9 L1160.7 491.5 L1161.7 483.8 L1162.7 483.4 L1163.7 492.1 L1164.7 489.6 L1165.7 492.6 L1166.7 489.0 L1167.7 481.8 L1168.7 488.2 L1169.7 485.8 L1170.7 484.3 L1171.7 481.1 L1172.7 483.5 L1173.7 483.1 L1174.7 486.2 L1175.7 483.9 L1176.7 488.3 L1177.7 481.2 L1178.7 485.0 L1179.7 485.1 L1180.7 481.0 L1181.7 480.1 L1182.7 486.7 L1183.7 485.3 L1184.7 483.3 L1185.7 485.0 L1186.7 481.8 L1187.7 484.6 L1188.7 482.1 L1189.7 484.5 L1190.7 487.0 L1191.7 483.1 L1192.7 486.7 L1193.7 481.1 L1194.7 483.4 L1195.7 480.2 L1196.7 484.1 L1197.7 484.7 L1198.7 484.0 L1199.7 483.9 L1200.7 488.9 L1201.7 489.5 L1202.7 481.8 L1203.7 489.4 L1204.7 481.0 L1205.7 484.4 L1206.7 486.5 L1207.7 487.8 L1208.7 484.8 L1209.7 486.3 L1210.7 489.1 L1211.7 487.3 L1212.7 487.9 L1213.7 492.2 L1214.7 493.5 L1215.7 490.9 L1216.7 491.4 L1217.7 491.6 L1218.7 490.6 L1219.7 490.8 L1220.7 489.5 L1221.7 494.9 L1222.7 493.1 L1223.7 493.3 L1224.7 494.6 L1225.7 495.9 L1226.7 498.8 L1227.7 494.0 L1228.7 493.8 L1229.7 495.8 L1230.7 492.8 L1231.7 499.3 L1232.7 498.3 L1233.7 497.5 L1234.7 494.6 L1235.7 496.4 L1236.7 496.4 L1237.7 493.5 L1238.7 489.8 L1239.7 484.1 L1240.7 490.4 L1241.7 484.8 L1242.7 481.7 L1243.7 485.2 L1244.7 482.0 L1245.7 475.2 L1246.7 477.5 L1247.7 475.2 L1248.7 477.1 L1249.7 466.3 L1250.7 468.6 L1251.7 466.8 L1252.7 468.6 L1253.7 457.5 L1254.7 447.7 L1255.7 447.5 L1256.7 446.6 L1257.7 440.4 L1258.7 430.6 L1259.7 408.3 L1260.7 387.4 L1261.7 375.3 L1262.7 355.2 L1263.7 337.4 L1264.7 321.0 L1265.7 305.9 L1266.7 279.1 L1267.7 252.9 L1268.7 222.2 L1269.7 191.9 L1270.7 165.6 L1271.7 146.1 L1272.7 136.9 L1273.7 132.9 L1274.7 134.3 L1275.7 138.5 L1276.7 144.1 L1277.7 150.8 L1278.7 162.3 L1279.7 175.3 L1280.7 190.4 L1281.7 210.9 L1282.7 240.4 L1283.7 267.8 L1284.7 283.9 L1285.7 289.3 L1286.7 300.8 L1287.7 317.2 L1288.7 324.3 L1289.7 341.3 L1290.7 356.3 L1291.7 366.6 L1292.7 382.5 L1293.7 391.9 L1294.7 401.5 L1295.7 403.5 L1296.7 406.2 L1297.7 412.3 L1298.7 418.4 L1299.7 426.0 L1300.7 427.7 L1301.7 430.3 L1302.7 433.6 L1303.7 439.7 L1304.7 436.6 L1305.7 444.7 L1306.7 438.1 L1307.7 441.5 L1308.7 447.3 L1309.7 447.6 L1310.7 444.7 L1311.7 448.2 L1312.7 447.5 L1313.7 453.3 L1314.7 453.4 L1315.7 450.6 L1316.7 454.9 L1317.7 453.5 L1318.7 455.3 L1319.7 456.5 L1320.7 455.3 L1321.7 459.0 L1322.7 459.8 L1323.7 460.4 L1324.7 463.0 L1325.7 459.5 L1326.7 456.4 L1327.7 460.0 L1328.7 462.6 L1329.7 462.6 L1330.7 464.7 L1331.7 465.9 L1332.7 463.6 L1333.7 464.1 L1334.7 462.0 L1335.7 468.5 L1336.7 465.1 L1337.7 463.1 L1338.7 463.4 L1339.7 466.0 L1340.7 472.4 L1341.7 470.4 L1342.7 463.5 L1343.7 468.6 L1344.7 470.2 L1345.7 471.6 L1346.7 471.2 L1347.7 468.6 L1348.7 472.1 L1349.7 469.5 L1350.7 464.8 L1351.7 469.7 L1352.7 470.0 L1353.7 475.2 L1354.7 475.8 L1355.7 469.7 L1356.7 473.7 L1357.7 473.7 L1358.7 469.4 L1359.7 467.8 L1360.7 473.9 L1361.7 474.9 L1362.7 472.9 L1363.7 466.7 L1364.7 475.0 L1365.7 473.5 L1366.7 472.7 L1367.7 474.5 L1368.7 472.2 L1369.7 477.3 L1370.7 475.7 L1371.7 474.0 L1372.7 476.5 L1373.7 475.5 L1374.7 470.9 L1375.7 474.8 L1376.7 473.7 L1377.7 469.6 L1378.7 472.6 L1379.7 475.5 L1380.7 472.1 L1381.7 477.8 L1382.7 478.2 L1383.7 471.8 L1384.7 473.9 L1385.7 477.2 L1386.7 468.8 L1387.7 465.6 L1388.7 465.4 L1389.7 461.2 L1390.7 460.2 L1391.7 463.9 L1392.7 461.0 L1393.7 462.1 L1394.7 461.9 L1395.7 457.3 L1396.7 458.2 L1397.7 457.2 L1398.7 455.2 L1399.7 453.9 L1400.7 456.5 L1401.7 454.3 L1402.7 454.8 L1403.7 456.1 L1404.7 455.4 L1405.7 448.6 L1406.7 449.1 L1407.7 450.9 L1408.7 452.2 L1409.7 454.9 L1410.7 449.7 L1411.7 451.9 L1412.7 454.7 L1413.7 458.4 L1414.7 459.8 L1415.7 453.6 L1416.7 457.0 L1417.7 456.2 L1418.7 462.3 L1419.7 462.1 L1420.7 460.8 L1421.7 461.0 L1422.7 464.8 L1423.7 467.7 L1424.7 463.4 L1425.7 465.6 L1426.7 468.0 L1427.7 468.8 L1428.7 470.9 L1429.7 468.0 L1430.7 470.4 L1431.7 467.0 L1432.7 474.5 L1433.7 478.4 L1434.7 469.9 L1435.7 474.8 L1436.7 479.8 L1437.7 476.9 L1438.7 471.7 L1439.7 480.9 L1440.7 473.1 L1441.7 481.4 L1442.7 475.5 L1443.7 475.1 L1444.7 477.2 L1445.7 476.9 L1446.7 478.7 L1447.7 478.3 L1448.7 476.2 L1449.7 480.4 L1450.7 478.4 L1451.7 476.9 L1452.7 476.3 L1453.7 475.4 L1454.7 475.1 L1455.7 476.8 L1456.7 475.4 L1457.7 473.1 L1458.7 474.7 L1459.7 469.4 L1460.7 469.8 L1461.7 469.2 L1462.7 461.0 L1463.7 459.1 L1464.7 458.8 L1465.7 443.7 L1466.7 442.7 L1467.7 429.3 L1468.7 427.7 L1469.7 416.8 L1470.7 410.0 L1471.7 396.9 L1472.7 377.1 L1473.7 368.6 L1474.7 360.6 L1475.7 355.0 L1476.7 347.5 L1477.7 343.6 L1478.7 336.9 L1479.7 330.2 L1480.7 324.2 L1481.7 322.0 L1482.7 322.3 L1483.7 325.0 L1484.7 329.3 L1485.7 334.2 L1486.7 338.5 L1487.7 344.8 L1488.7 350.6 L1489.7 356.8 L1490.7 361.7 L1491.7 367.0 L1492.7 374.0 L1493.7 382.9 L1494.7 390.4 L1495.7 387.1 L1496.7 389.9 L1497.7 397.5 L1498.7 401.7 L1499.7 407.4 L1500.7 412.5 L1501.7 410.5 L1502.7 416.7 L1503.7 418.6 L1504.7 422.1 L1505.7 424.2 L1506.7 423.1 L1507.7 428.5 L1508.7 421.9 L1509.7 425.9 L1510.7 427.3 L1511.7 429.9 L1512.7 433.3 L1513.7 431.0 L1514.7 438.7 L1515.7 439.0 L1516.7 437.7 L1517.7 439.4 L1518.7 436.4 L1519.7 432.9 L1520.7 441.2 L1521.7 443.5 L1522.7 444.2 L1523.7 441.3 L1524.7 444.1 L1525.7 451.6 L1526.7 449.4 L1527.7 449.8 L1528.7 447.7 L1529.7 451.5 L1530.7 453.7 L1531.7 452.6 L1532.7 449.6 L1533.7 452.1 L1534.7 449.1 L1535.7 451.2 L1536.7 454.3 L1537.7 451.4 L1538.7 452.7 L1539.7 458.0 L1540.7 453.5 L1541.7 456.6 L1542.7 453.6 L1543.7 451.3 L1544.7 454.9 L1545.7 453.9 L1546.7 449.0 L1547.7 451.5 L1548.7 453.8 L1549.7 459.4 L1550.7 453.3 L1551.7 454.9 L1552.7 456.9 L1553.7 455.9 L1554.7 454.0 L1555.7 460.1 L1556.7 459.0 L1557.7 447.8 L1558.7 457.9 L1559.7 456.7 L1560.7 458.0 L1561.7 455.3 L1562.7 457.5 L1563.7 460.8 L1564.7 460.1 L1565.7 460.3 L1566.7 458.1 L1567.7 457.6 L1568.7 457.5 L1569.7 451.2 L1570.7 461.1 L1571.7 454.8 L1572.7 454.8 L1573.7 454.0 L1574.7 454.8 L1575.7 446.7 L1576.7 453.4 L1577.7 448.7 L1578.7 449.2 L1579.7 446.3 L1580.7 446.4 L1581.7 452.9 L1582.7 449.3 L1583.7 450.0 L1584.7 449.3 L1585.7 445.7 L1586.7 446.4 L1587.7 444.1 L1588.7 446.2 L1589.7 439.9 L1590.7 444.6 L1591.7 447.9 L1592.7 448.2 L1593.7 447.6 L1594.7 445.2 L1595.7 440.3 L1596.7 445.7 L1597.7 444.1 L1598.7 443.0 L1599.7 438.3 L1600.7 442.7 L1601.7 445.5 L1602.7 443.2 L1603.7 440.0 L1604.7 442.1 L1605.7 440.3 L1606.7 440.6 L1607.7 442.4 L1608.7 440.7 L1609.7 439.8 L1610.7 440.5 L1611.7 436.8 L1612.7 436.1 L1613.7 440.4 L1614.7 437.0 L1615.7 440.3 L1616.7 433.1 L1617.7 442.0 L1618.7 438.0 L1619.7 443.2 L1620.7 430.8 L1621.7 433.1 L1622.7 442.2 L1623.7 438.5 L1624.7 438.9 L1625.7 438.4 L1626.7 438.7 L1627.7 440.0 L1628.7 435.8 L1629.7 438.7 L1630.7 443.6 L1631.7 440.8 L1632.7 439.0 L1633.7 441.7 L1634.7 445.1 L1635.7 442.1 L1636.7 442.7 L1637.7 445.3 L1638.7 446.9 L1639.7 449.3 L1640.7 445.0 L1641.7 446.9 L1642.7 449.4 L1643.7 441.1 L1644.7 447.7 L1645.7 449.0 L1646.7 447.7 L1647.7 445.7 L1648.7 450.2 L1649.7 452.3 L1650.7 448.6 L1651.7 447.6 L1652.7 448.6 L1653.7 454.1 L1654.7 453.3 L1655.7 449.9 L1656.7 446.6 L1657.7 446.2 L1658.7 449.2 L1659.7 449.3 L1660.7 451.1 L1661.7 447.1 L1662.7 450.1 L1663.7 452.1 L1664.7 445.6 L1665.7 457.5 L1666.7 452.4 L1667.7 452.3 L1668.7 446.9 L1669.7 447.8 L1670.7 453.9 L1671.7 453.6 L1672.7 443.7 L1673.7 454.4 L1674.7 453.2 L1675.7 452.9 L1676.7 447.7 L1677.7 451.8 L1678.7 449.3 L1679.7 452.8 L1680.7 456.6 L1681.7 453.0 L1682.7 454.1 L1683.7 450.2 L1684.7 448.0 L1685.7 451.0 L1686.7 454.0 L1687.7 455.2 L1688.7 450.6 L1689.7 451.4 L1690.7 449.3 L1691.7 445.3 L1692.7 450.5 L1693.7 451.2 L1694.7 448.8 L1695.7 449.4 L1696.7 444.5 L1697.7 449.9 L1698.7 453.8 L1699.7 449.5 L1700.7 451.3 L1701.7 450.8 L1702.7 447.1 L1703.7 449.9 L1704.7 446.8 L1705.7 457.9 L1706.7 449.7 L1707.7 445.7 L1708.7 444.3 L1709.7 453.3 L1710.7 450.6 L1711.7 449.9 L1712.7 444.6 L1713.7 446.9 L1714.7 444.9 L1715.7 451.8 L1716.7 446.9 L1717.7 454.1 L1718.7 449.9 L1719.7 447.3 L1720.7 452.2 L1721.7 441.9" fill="none" stroke="#ff0000" stroke-width="2.6" stroke-linejoin="round"/>
<path d="M1156.8 487.8 L1157.8 488.0 L1158.8 487.3 L1159.8 488.8 L1160.8 494.0 L1161.8 485.4 L1162.8 491.9 L1163.8 492.5 L1164.8 487.8 L1165.8 486.6 L1166.8 489.5 L1167.8 491.2 L1168.8 493.5 L1169.8 489.8 L1170.8 491.5 L1171.8 485.8 L1172.8 484.5 L1173.8 482.1 L1174.8 483.5 L1175.8 485.5 L1176.8 487.0 L1177.8 482.9 L1178.8 488.6 L1179.8 486.1 L1180.8 484.7 L1181.8 484.4 L1182.8 492.0 L1183.8 487.0 L1184.8 484.2 L1185.8 484.1 L1186.8 491.7 L1187.8 485.3 L1188.8 490.2 L1189.8 490.9 L1190.8 480.9 L1191.8 490.9 L1192.8 486.8 L1193.8 484.6 L1194.8 486.2 L1195.8 489.3 L1196.8 488.9 L1197.8 489.2 L1198.8 486.2 L1199.8 491.8 L1200.8 492.5 L1201.8 493.6 L1202.8 491.5 L1203.8 494.0 L1204.8 494.7 L1205.8 491.1 L1206.8 491.8 L1207.8 491.2 L1208.8 491.3 L1209.8 492.4 L1210.8 485.8 L1211.8 489.8 L1212.8 492.2 L1213.8 485.5 L1214.8 487.6 L1215.8 496.0 L1216.8 489.1 L1217.8 490.9 L1218.8 493.4 L1219.8 491.3 L1220.8 490.4 L1221.8 491.4 L1222.8 491.7 L1223.8 491.3 L1224.8 493.4 L1225.8 497.1 L1226.8 493.6 L1227.8 496.9 L1228.8 494.3 L1229.8 494.3 L1230.8 493.4 L1231.8 490.7 L1232.8 492.3 L1233.8 491.6 L1234.8 487.4 L1235.8 492.0 L1236.8 491.1 L1237.8 490.1 L1238.8 487.1 L1239.8 480.7 L1240.8 490.9 L1241.8 485.7 L1242.8 478.9 L1243.8 485.2 L1244.8 480.1 L1245.8 482.2 L1246.8 478.4 L1247.8 480.0 L1248.8 475.7 L1249.8 473.9 L1250.8 471.4 L1251.8 471.8 L1252.8 462.2 L1253.8 465.6 L1254.8 460.5 L1255.8 452.8 L1256.8 448.6 L1257.8 439.0 L1258.8 431.1 L1259.8 425.3 L1260.8 414.7 L1261.8 412.2 L1262.8 403.7 L1263.8 383.7 L1264.8 359.1 L1265.8 329.1 L1266.8 305.9 L1267.8 296.6 L1268.8 289.0 L1269.8 272.9 L1270.8 253.5 L1271.8 241.7 L1272.8 234.4 L1273.8 230.8 L1274.8 230.5 L1275.8 232.7 L1276.8 236.1 L1277.8 241.3 L1278.8 267.9 L1279.8 289.0 L1280.8 298.9 L1281.8 306.6 L1282.8 316.4 L1283.8 326.1 L1284.8 332.1 L1285.8 346.8 L1286.8 356.2 L1287.8 371.5 L1288.8 383.1 L1289.8 397.0 L1290.8 399.6 L1291.8 406.3 L1292.8 412.2 L1293.8 418.4 L1294.8 422.6 L1295.8 420.4 L1296.8 430.0 L1297.8 431.1 L1298.8 436.8 L1299.8 439.5 L1300.8 437.8 L1301.8 441.6 L1302.8 442.4 L1303.8 445.9 L1304.8 450.8 L1305.8 447.9 L1306.8 447.3 L1307.8 457.1 L1308.8 448.8 L1309.8 452.5 L1310.8 453.4 L1311.8 451.0 L1312.8 457.4 L1313.8 458.9 L1314.8 456.6 L1315.8 457.7 L1316.8 457.8 L1317.8 454.1 L1318.8 460.1 L1319.8 456.7 L1320.8 458.0 L1321.8 462.2 L1322.8 464.2 L1323.8 459.9 L1324.8 465.8 L1325.8 467.9 L1326.8 464.1 L1327.8 463.8 L1328.8 465.0 L1329.8 463.8 L1330.8 463.0 L1331.8 467.4 L1332.8 468.0 L1333.8 465.1 L1334.8 465.7 L1335.8 465.5 L1336.8 465.6 L1337.8 465.3 L1338.8 464.2 L1339.8 471.0 L1340.8 468.0 L1341.8 469.5 L1342.8 474.5 L1343.8 468.6 L1344.8 471.8 L1345.8 466.9 L1346.8 469.1 L1347.8 472.9 L1348.8 470.6 L1349.8 467.7 L1350.8 467.6 L1351.8 472.8 L1352.8 469.5 L1353.8 474.0 L1354.8 473.1 L1355.8 471.6 L1356.8 472.4 L1357.8 474.7 L1358.8 472.9 L1359.8 470.4 L1360.8 474.0 L1361.8 472.3 L1362.8 472.7 L1363.8 474.9 L1364.8 474.4 L1365.8 476.3 L1366.8 473.1 L1367.8 472.5 L1368.8 472.8 L1369.8 474.8 L1370.8 471.6 L1371.8 472.8 L1372.8 471.4 L1373.8 471.4 L1374.8 472.7 L1375.8 479.3 L1376.8 471.4 L1377.8 472.7 L1378.8 471.7 L1379.8 470.5 L1380.8 470.5 L1381.8 475.0 L1382.8 468.5 L1383.8 472.8 L1384.8 469.6 L1385.8 464.7 L1386.8 464.2 L1387.8 463.5 L1388.8 460.6 L1389.8 465.3 L1390.8 462.2 L1391.8 461.6 L1392.8 456.6 L1393.8 459.7 L1394.8 456.1 L1395.8 463.0 L1396.8 455.5 L1397.8 455.6 L1398.8 455.1 L1399.8 451.9 L1400.8 451.4 L1401.8 450.7 L1402.8 453.4 L1403.8 448.8 L1404.8 449.9 L1405.8 450.9 L1406.8 448.8 L1407.8 446.3 L1408.8 446.9 L1409.8 449.3 L1410.8 448.2 L1411.8 453.7 L1412.8 451.8 L1413.8 452.4 L1414.8 450.5 L1415.8 455.2 L1416.8 453.7 L1417.8 452.9 L1418.8 454.6 L1419.8 463.3 L1420.8 456.2 L1421.8 456.2 L1422.8 462.2 L1423.8 461.8 L1424.8 459.6 L1425.8 464.6 L1426.8 457.8 L1427.8 461.0 L1428.8 458.6 L1429.8 467.1 L1430.8 464.3 L1431.8 471.7 L1432.8 466.7 L1433.8 467.4 L1434.8 463.7 L1435.8 464.1 L1436.8 466.3 L1437.8 470.4 L1438.8 465.6 L1439.8 462.3 L1440.8 470.9 L1441.8 471.1 L1442.8 466.2 L1443.8 469.7 L1444.8 471.4 L1445.8 471.3 L1446.8 464.0 L1447.8 468.0 L1448.8 465.6 L1449.8 469.8 L1450.8 467.2 L1451.8 463.5 L1452.8 466.5 L1453.8 467.4 L1454.8 461.3 L1455.8 461.4 L1456.8 462.4 L1457.8 462.4 L1458.8 460.4 L1459.8 455.5 L1460.8 454.4 L1461.8 456.4 L1462.8 455.3 L1463.8 449.5 L1464.8 449.1 L1465.8 448.9 L1466.8 437.8 L1467.8 431.3 L1468.8 425.1 L1469.8 423.7 L1470.8 418.9 L1471.8 414.6 L1472.8 407.4 L1473.8 401.0 L1474.8 390.6 L1475.8 378.8 L1476.8 372.2 L1477.8 364.5 L1478.8 361.9 L1479.8 358.0 L1480.8 356.0 L1481.8 355.2 L1482.8 354.3 L1483.8 356.7 L1484.8 359.9 L1485.8 365.1 L1486.8 370.0 L1487.8 373.7 L1488.8 379.3 L1489.8 385.6 L1490.8 390.9 L1491.8 390.6 L1492.8 398.0 L1493.8 404.2 L1494.8 410.4 L1495.8 410.0 L1496.8 416.7 L1497.8 413.1 L1498.8 419.6 L1499.8 415.0 L1500.8 421.9 L1501.8 420.5 L1502.8 425.6 L1503.8 428.9 L1504.8 430.3 L1505.8 430.3 L1506.8 427.3 L1507.8 428.8 L1508.8 424.0 L1509.8 437.7 L1510.8 438.3 L1511.8 438.6 L1512.8 433.8 L1513.8 445.0 L1514.8 436.7 L1515.8 441.6 L1516.8 435.7 L1517.8 439.0 L1518.8 444.6 L1519.8 444.7 L1520.8 439.8 L1521.8 443.1 L1522.8 446.9 L1523.8 439.7 L1524.8 447.3 L1525.8 441.9 L1526.8 448.4 L1527.8 446.8 L1528.8 450.8 L1529.8 447.5 L1530.8 448.6 L1531.8 449.2 L1532.8 448.1 L1533.8 450.4 L1534.8 448.8 L1535.8 450.2 L1536.8 453.8 L1537.8 451.4 L1538.8 455.4 L1539.8 454.6 L1540.8 455.1 L1541.8 450.1 L1542.8 454.4 L1543.8 457.3 L1544.8 455.9 L1545.8 456.9 L1546.8 457.7 L1547.8 449.6 L1548.8 455.1 L1549.8 455.0 L1550.8 453.0 L1551.8 449.9 L1552.8 453.7 L1553.8 452.8 L1554.8 458.4 L1555.8 456.6 L1556.8 451.8 L1557.8 450.0 L1558.8 450.4 L1559.8 452.4 L1560.8 450.5 L1561.8 457.6 L1562.8 448.9 L1563.8 451.8 L1564.8 452.3 L1565.8 452.9 L1566.8 449.1 L1567.8 450.9 L1568.8 451.8 L1569.8 452.0 L1570.8 449.4 L1571.8 450.0 L1572.8 451.2 L1573.8 455.6 L1574.8 447.0 L1575.8 451.9 L1576.8 454.1 L1577.8 445.8 L1578.8 453.2 L1579.8 452.8 L1580.8 448.9 L1581.8 451.0 L1582.8 452.0 L1583.8 447.0 L1584.8 447.3 L1585.8 443.0 L1586.8 443.1 L1587.8 444.3 L1588.8 443.1 L1589.8 447.0 L1590.8 441.6 L1591.8 438.6 L1592.8 444.0 L1593.8 443.9 L1594.8 442.4 L1595.8 440.8 L1596.8 439.0 L1597.8 439.3 L1598.8 445.0 L1599.8 442.9 L1600.8 441.0 L1601.8 441.8 L1602.8 439.6 L1603.8 438.0 L1604.8 439.1 L1605.8 440.1 L1606.8 435.7 L1607.8 436.1 L1608.8 435.1 L1609.8 438.3 L1610.8 440.9 L1611.8 435.4 L1612.8 435.7 L1613.8 434.1 L1614.8 436.9 L1615.8 434.7 L1616.8 434.9 L1617.8 434.4 L1618.8 443.1 L1619.8 436.7 L1620.8 435.0 L1621.8 435.4 L1622.8 438.8 L1623.8 439.0 L1624.8 437.1 L1625.8 431.4 L1626.8 439.7 L1627.8 440.5 L1628.8 440.4 L1629.8 440.4 L1630.8 440.1 L1631.8 443.9 L1632.8 440.6 L1633.8 444.8 L1634.8 441.2 L1635.8 441.7 L1636.8 441.9 L1637.8 441.8 L1638.8 442.2 L1639.8 445.8 L1640.8 448.2 L1641.8 442.3 L1642.8 441.6 L1643.8 447.9 L1644.8 443.8 L1645.8 445.6 L1646.8 445.4 L1647.8 447.5 L1648.8 442.9 L1649.8 448.4 L1650.8 447.6 L1651.8 439.7 L1652.8 445.2 L1653.8 444.7 L1654.8 446.9 L1655.8 445.8 L1656.8 444.0 L1657.8 445.2 L1658.8 447.1 L1659.8 446.4 L1660.8 446.0 L1661.8 452.4 L1662.8 448.0 L1663.8 443.7 L1664.8 447.1 L1665.8 447.7 L1666.8 444.3 L1667.8 447.4 L1668.8 445.0 L1669.8 441.4 L1670.8 448.4 L1671.8 449.3 L1672.8 449.4 L1673.8 447.5 L1674.8 446.4 L1675.8 448.7 L1676.8 449.3 L1677.8 450.7 L1678.8 451.9 L1679.8 450.5 L1680.8 446.9 L1681.8 448.3 L1682.8 444.7 L1683.8 450.3 L1684.8 449.9 L1685.8 451.5 L1686.8 449.5 L1687.8 452.3 L1688.8 446.2 L1689.8 448.8 L1690.8 447.1 L1691.8 447.1 L1692.8 442.8 L1693.8 445.4 L1694.8 441.9 L1695.8 446.2 L1696.8 445.1 L1697.8 447.2 L1698.8 441.8 L1699.8 445.1 L1700.8 445.7 L1701.8 440.0 L1702.8 450.3 L1703.8 447.1 L1704.8 443.5 L1705.8 450.4 L1706.8 448.7 L1707.8 438.3 L1708.8 443.8 L1709.8 442.8 L1710.8 444.3 L1711.8 441.5 L1712.8 443.1 L1713.8 443.9 L1714.8 436.8 L1715.8 443.7 L1716.8 447.1 L1717.8 443.6 L1718.8 446.3 L1719.8 447.5 L1720.8 444.3 L1721.8 445.1 L1722.8 445.9 L1723.8 444.5 L1724.8 452.5" fill="none" stroke="#0000ff" stroke-width="2.6" stroke-linejoin="round"/>
<path d="M1156.8 502.6 L1157.8 501.2 L1158.8 500.0 L1159.8 493.0 L1160.8 500.5 L1161.8 492.7 L1162.8 501.1 L1163.8 499.8 L1164.8 500.0 L1165.8 499.6 L1166.8 497.6 L1167.8 494.8 L1168.8 495.1 L1169.8 500.0 L1170.8 493.5 L1171.8 494.1 L1172.8 492.2 L1173.8 492.3 L1174.8 492.4 L1175.8 493.6 L1176.8 491.5 L1177.8 490.9 L1178.8 489.7 L1179.8 491.3 L1180.8 486.8 L1181.8 490.6 L1182.8 494.0 L1183.8 487.9 L1184.8 489.9 L1185.8 498.2 L1186.8 487.2 L1187.8 485.5 L1188.8 489.1 L1189.8 495.7 L1190.8 496.6 L1191.8 487.4 L1192.8 492.8 L1193.8 491.5 L1194.8 490.1 L1195.8 486.4 L1196.8 495.3 L1197.8 490.2 L1198.8 493.9 L1199.8 493.5 L1200.8 499.0 L1201.8 497.3 L1202.8 490.8 L1203.8 493.6 L1204.8 497.6 L1205.8 490.9 L1206.8 493.8 L1207.8 495.8 L1208.8 490.7 L1209.8 492.0 L1210.8 490.8 L1211.8 496.8 L1212.8 494.6 L1213.8 499.1 L1214.8 496.9 L1215.8 498.4 L1216.8 496.7 L1217.8 499.3 L1218.8 497.0 L1219.8 494.6 L1220.8 501.0 L1221.8 500.6 L1222.8 504.4 L1223.8 497.6 L1224.8 496.4 L1225.8 494.1 L1226.8 487.2 L1227.8 494.7 L1228.8 500.0 L1229.8 496.2 L1230.8 491.3 L1231.8 500.7 L1232.8 497.3 L1233.8 498.1 L1234.8 497.9 L1235.8 498.9 L1236.8 500.7 L1237.8 494.3 L1238.8 498.6 L1239.8 497.4 L1240.8 501.6 L1241.8 494.5 L1242.8 501.4 L1243.8 497.3 L1244.8 499.1 L1245.8 491.1 L1246.8 494.2 L1247.8 491.5 L1248.8 484.3 L1249.8 485.7 L1250.8 482.7 L1251.8 478.4 L1252.8 476.1 L1253.8 471.0 L1254.8 470.3 L1255.8 468.6 L1256.8 460.7 L1257.8 453.2 L1258.8 454.6 L1259.8 442.2 L1260.8 432.8 L1261.8 418.6 L1262.8 401.8 L1263.8 387.3 L1264.8 363.7 L1265.8 343.0 L1266.8 315.7 L1267.8 293.5 L1268.8 276.2 L1269.8 263.1 L1270.8 251.4 L1271.8 242.1 L1272.8 234.2 L1273.8 231.7 L1274.8 232.3 L1275.8 234.9 L1276.8 238.3 L1277.8 240.3 L1278.8 241.7 L1279.8 244.7 L1280.8 250.0 L1281.8 263.8 L1282.8 283.4 L1283.8 296.7 L1284.8 311.4 L1285.8 325.2 L1286.8 333.0 L1287.8 340.9 L1288.8 351.5 L1289.8 364.4 L1290.8 378.2 L1291.8 392.8 L1292.8 401.8 L1293.8 406.6 L1294.8 407.6 L1295.8 414.9 L1296.8 422.4 L1297.8 427.1 L1298.8 428.4 L1299.8 439.3 L1300.8 449.4 L1301.8 441.8 L1302.8 448.2 L1303.8 455.0 L1304.8 451.3 L1305.8 453.3 L1306.8 456.8 L1307.8 459.7 L1308.8 458.5 L1309.8 463.9 L1310.8 456.9 L1311.8 465.5 L1312.8 465.8 L1313.8 465.3 L1314.8 467.8 L1315.8 467.6 L1316.8 472.1 L1317.8 467.7 L1318.8 469.6 L1319.8 466.4 L1320.8 467.7 L1321.8 470.9 L1322.8 467.7 L1323.8 470.3 L1324.8 469.4 L1325.8 472.3 L1326.8 474.5 L1327.8 477.4 L1328.8 469.4 L1329.8 474.9 L1330.8 478.4 L1331.8 480.3 L1332.8 480.7 L1333.8 472.8 L1334.8 475.9 L1335.8 479.3 L1336.8 480.8 L1337.8 479.2 L1338.8 479.5 L1339.8 479.8 L1340.8 477.2 L1341.8 480.2 L1342.8 482.4 L1343.8 479.3 L1344.8 484.0 L1345.8 472.6 L1346.8 480.1 L1347.8 486.2 L1348.8 484.0 L1349.8 485.8 L1350.8 482.2 L1351.8 478.5 L1352.8 480.5 L1353.8 486.5 L1354.8 476.9 L1355.8 479.5 L1356.8 477.4 L1357.8 480.9 L1358.8 481.3 L1359.8 484.3 L1360.8 480.3 L1361.8 487.7 L1362.8 484.6 L1363.8 481.4 L1364.8 480.0 L1365.8 478.6 L1366.8 483.3 L1367.8 488.7 L1368.8 482.5 L1369.8 480.0 L1370.8 482.8 L1371.8 481.5 L1372.8 480.2 L1373.8 477.0 L1374.8 481.9 L1375.8 485.9 L1376.8 484.5 L1377.8 483.2 L1378.8 480.2 L1379.8 480.2 L1380.8 481.1 L1381.8 477.2 L1382.8 477.5 L1383.8 474.8 L1384.8 478.6 L1385.8 471.9 L1386.8 475.9 L1387.8 475.6 L1388.8 474.8 L1389.8 473.7 L1390.8 469.5 L1391.8 468.5 L1392.8 468.3 L1393.8 467.6 L1394.8 464.6 L1395.8 465.7 L1396.8 464.3 L1397.8 462.6 L1398.8 465.5 L1399.8 461.5 L1400.8 463.6 L1401.8 466.5 L1402.8 466.5 L1403.8 461.1 L1404.8 463.6 L1405.8 461.1 L1406.8 467.2 L1407.8 465.1 L1408.8 463.7 L1409.8 460.3 L1410.8 460.4 L1411.8 463.2 L1412.8 462.1 L1413.8 462.2 L1414.8 465.6 L1415.8 460.7 L1416.8 459.3 L1417.8 463.0 L1418.8 463.4 L1419.8 467.3 L1420.8 465.8 L1421.8 468.4 L1422.8 463.8 L1423.8 474.5 L1424.8 471.9 L1425.8 468.7 L1426.8 472.7 L1427.8 475.9 L1428.8 475.3 L1429.8 473.1 L1430.8 475.7 L1431.8 477.0 L1432.8 471.4 L1433.8 471.2 L1434.8 474.1 L1435.8 479.1 L1436.8 480.9 L1437.8 477.3 L1438.8 481.5 L1439.8 480.2 L1440.8 477.2 L1441.8 475.3 L1442.8 475.6 L1443.8 477.7 L1444.8 481.5 L1445.8 479.9 L1446.8 473.6 L1447.8 473.9 L1448.8 479.8 L1449.8 478.0 L1450.8 474.7 L1451.8 479.4 L1452.8 481.4 L1453.8 479.8 L1454.8 477.8 L1455.8 481.3 L1456.8 475.9 L1457.8 474.4 L1458.8 472.2 L1459.8 479.0 L1460.8 477.9 L1461.8 469.7 L1462.8 469.4 L1463.8 465.3 L1464.8 461.9 L1465.8 456.9 L1466.8 449.4 L1467.8 441.2 L1468.8 434.4 L1469.8 428.2 L1470.8 419.2 L1471.8 422.3 L1472.8 415.7 L1473.8 413.3 L1474.8 407.1 L1475.8 396.6 L1476.8 390.2 L1477.8 382.4 L1478.8 375.4 L1479.8 370.9 L1480.8 368.5 L1481.8 367.5 L1482.8 365.5 L1483.8 364.5 L1484.8 363.8 L1485.8 365.0 L1486.8 365.5 L1487.8 369.1 L1488.8 368.3 L1489.8 370.1 L1490.8 378.4 L1491.8 377.5 L1492.8 380.3 L1493.8 388.9 L1494.8 385.6 L1495.8 397.7 L1496.8 400.4 L1497.8 405.0 L1498.8 405.7 L1499.8 415.8 L1500.8 417.2 L1501.8 420.4 L1502.8 425.1 L1503.8 424.0 L1504.8 428.0 L1505.8 425.7 L1506.8 428.4 L1507.8 433.8 L1508.8 434.6 L1509.8 437.5 L1510.8 434.5 L1511.8 437.2 L1512.8 436.5 L1513.8 440.2 L1514.8 442.7 L1515.8 444.5 L1516.8 444.1 L1517.8 441.3 L1518.8 445.4 L1519.8 442.9 L1520.8 441.6 L1521.8 448.9 L1522.8 449.8 L1523.8 452.9 L1524.8 454.3 L1525.8 449.3 L1526.8 451.2 L1527.8 454.6 L1528.8 455.6 L1529.8 457.1 L1530.8 452.5 L1531.8 456.0 L1532.8 458.9 L1533.8 462.9 L1534.8 454.1 L1535.8 462.8 L1536.8 457.5 L1537.8 454.4 L1538.8 462.7 L1539.8 456.0 L1540.8 455.9 L1541.8 461.6 L1542.8 462.7 L1543.8 460.1 L1544.8 458.0 L1545.8 455.9 L1546.8 460.7 L1547.8 453.7 L1548.8 456.4 L1549.8 463.9 L1550.8 462.7 L1551.8 464.6 L1552.8 462.4 L1553.8 458.0 L1554.8 462.8 L1555.8 456.3 L1556.8 463.7 L1557.8 465.7 L1558.8 458.9 L1559.8 464.9 L1560.8 462.1 L1561.8 461.6 L1562.8 456.3 L1563.8 461.6 L1564.8 464.6 L1565.8 457.1 L1566.8 460.6 L1567.8 459.8 L1568.8 457.0 L1569.8 464.7 L1570.8 461.5 L1571.8 461.4 L1572.8 463.9 L1573.8 458.7 L1574.8 470.0 L1575.8 459.0 L1576.8 456.7 L1577.8 461.6 L1578.8 460.6 L1579.8 456.5 L1580.8 456.3 L1581.8 461.1 L1582.8 459.1 L1583.8 459.0 L1584.8 459.8 L1585.8 455.0 L1586.8 459.7 L1587.8 455.5 L1588.8 456.8 L1589.8 451.3 L1590.8 455.4 L1591.8 453.3 L1592.8 459.0 L1593.8 450.7 L1594.8 454.9 L1595.8 451.8 L1596.8 453.8 L1597.8 449.3 L1598.8 449.3 L1599.8 440.7 L1600.8 442.7 L1601.8 448.7 L1602.8 446.2 L1603.8 446.5 L1604.8 442.9 L1605.8 445.4 L1606.8 441.6 L1607.8 442.1 L1608.8 445.4 L1609.8 444.8 L1610.8 440.4 L1611.8 441.8 L1612.8 442.4 L1613.8 441.4 L1614.8 441.6 L1615.8 439.3 L1616.8 443.9 L1617.8 439.4 L1618.8 439.8 L1619.8 446.5 L1620.8 448.3 L1621.8 448.7 L1622.8 444.6 L1623.8 442.3 L1624.8 446.3 L1625.8 448.9 L1626.8 445.0 L1627.8 444.0 L1628.8 440.8 L1629.8 441.3 L1630.8 451.8 L1631.8 443.2 L1632.8 446.1 L1633.8 447.7 L1634.8 449.7 L1635.8 445.5 L1636.8 451.2 L1637.8 451.5 L1638.8 450.3 L1639.8 448.6 L1640.8 449.5 L1641.8 445.3 L1642.8 452.9 L1643.8 449.7 L1644.8 447.5 L1645.8 451.5 L1646.8 453.3 L1647.8 453.0 L1648.8 454.0 L1649.8 455.8 L1650.8 451.1 L1651.8 453.3 L1652.8 453.7 L1653.8 449.0 L1654.8 456.5 L1655.8 452.6 L1656.8 454.4 L1657.8 454.7 L1658.8 451.7 L1659.8 456.5 L1660.8 457.1 L1661.8 454.8 L1662.8 446.0 L1663.8 458.4 L1664.8 454.0 L1665.8 452.5 L1666.8 452.7 L1667.8 451.2 L1668.8 453.3 L1669.8 456.1 L1670.8 451.0 L1671.8 454.8 L1672.8 452.4 L1673.8 453.3 L1674.8 452.9 L1675.8 454.8 L1676.8 456.8 L1677.8 453.8 L1678.8 456.3 L1679.8 457.9 L1680.8 449.4 L1681.8 455.8 L1682.8 452.6 L1683.8 452.8 L1684.8 456.1 L1685.8 452.5 L1686.8 451.3 L1687.8 456.6 L1688.8 455.9 L1689.8 454.0 L1690.8 460.9 L1691.8 449.7 L1692.8 447.8 L1693.8 451.7 L1694.8 449.0 L1695.8 453.2 L1696.8 450.4 L1697.8 450.2 L1698.8 451.9 L1699.8 449.4 L1700.8 446.2 L1701.8 449.5 L1702.8 453.6 L1703.8 452.2 L1704.8 454.1 L1705.8 456.2 L1706.8 453.8 L1707.8 451.0 L1708.8 448.9 L1709.8 452.4 L1710.8 455.6 L1711.8 455.0 L1712.8 453.5 L1713.8 448.4 L1714.8 452.4 L1715.8 452.7 L1716.8 454.1 L1717.8 446.8 L1718.8 448.4 L1719.8 450.8 L1720.8 450.7 L1721.8 448.5 L1722.8 451.6" fill="none" stroke="#ff00ff" stroke-width="2.6" stroke-linejoin="round"/>
<path d="M1152.9 507.1 L1153.9 503.7 L1154.9 498.8 L1155.9 501.1 L1156.9 500.1 L1157.9 500.0 L1158.9 501.9 L1159.9 496.0 L1160.9 502.1 L1161.9 495.6 L1162.9 498.0 L1163.9 500.7 L1164.9 499.8 L1165.9 495.6 L1166.9 502.5 L1167.9 498.2 L1168.9 494.2 L1169.9 496.9 L1170.9 494.3 L1171.9 498.0 L1172.9 492.8 L1173.9 498.1 L1174.9 491.6 L1175.9 499.9 L1176.9 497.6 L1177.9 500.8 L1178.9 494.8 L1179.9 490.9 L1180.9 493.1 L1181.9 496.4 L1182.9 502.9 L1183.9 498.9 L1184.9 501.2 L1185.9 494.9 L1186.9 496.0 L1187.9 496.7 L1188.9 501.1 L1189.9 496.2 L1190.9 497.1 L1191.9 502.7 L1192.9 495.6 L1193.9 498.2 L1194.9 494.5 L1195.9 497.8 L1196.9 501.0 L1197.9 502.2 L1198.9 494.9 L1199.9 491.8 L1200.9 500.9 L1201.9 504.3 L1202.9 497.7 L1203.9 500.7 L1204.9 500.2 L1205.9 494.2 L1206.9 492.9 L1207.9 500.8 L1208.9 502.7 L1209.9 497.2 L1210.9 501.0 L1211.9 500.1 L1212.9 500.3 L1213.9 500.3 L1214.9 508.5 L1215.9 506.3 L1216.9 506.6 L1217.9 506.9 L1218.9 510.2 L1219.9 508.2 L1220.9 510.4 L1221.9 507.7 L1222.9 510.8 L1223.9 508.7 L1224.9 511.0 L1225.9 504.5 L1226.9 506.5 L1227.9 505.0 L1228.9 512.9 L1229.9 506.5 L1230.9 508.0 L1231.9 503.2 L1232.9 505.4 L1233.9 503.2 L1234.9 507.8 L1235.9 505.3 L1236.9 512.6 L1237.9 505.6 L1238.9 511.0 L1239.9 507.7 L1240.9 509.6 L1241.9 505.4 L1242.9 507.8 L1243.9 507.3 L1244.9 505.2 L1245.9 508.8 L1246.9 502.5 L1247.9 505.9 L1248.9 505.4 L1249.9 505.8 L1250.9 501.6 L1251.9 505.9 L1252.9 499.9 L1253.9 498.9 L1254.9 495.7 L1255.9 494.1 L1256.9 491.9 L1257.9 493.7 L1258.9 470.0 L1259.9 471.3 L1260.9 460.7 L1261.9 450.3 L1262.9 433.4 L1263.9 419.7 L1264.9 409.5 L1265.9 388.2 L1266.9 364.7 L1267.9 340.3 L1268.9 316.0 L1269.9 300.6 L1270.9 290.1 L1271.9 286.4 L1272.9 281.6 L1273.9 281.9 L1274.9 283.4 L1275.9 287.2 L1276.9 290.7 L1277.9 297.5 L1278.9 310.5 L1279.9 323.8 L1280.9 336.7 L1281.9 351.6 L1282.9 365.6 L1283.9 379.7 L1284.9 384.9 L1285.9 392.4 L1286.9 396.3 L1287.9 403.0 L1288.9 408.2 L1289.9 413.7 L1290.9 413.6 L1291.9 427.9 L1292.9 427.5 L1293.9 438.0 L1294.9 438.4 L1295.9 454.2 L1296.9 462.2 L1297.9 468.4 L1298.9 471.1 L1299.9 474.2 L1300.9 473.2 L1301.9 475.8 L1302.9 477.9 L1303.9 480.3 L1304.9 478.0 L1305.9 481.2 L1306.9 484.9 L1307.9 484.8 L1308.9 484.8 L1309.9 483.7 L1310.9 487.6 L1311.9 488.0 L1312.9 492.3 L1313.9 488.6 L1314.9 491.9 L1315.9 485.8 L1316.9 495.2 L1317.9 486.5 L1318.9 490.6 L1319.9 490.2 L1320.9 489.9 L1321.9 491.1 L1322.9 490.8 L1323.9 493.1 L1324.9 494.0 L1325.9 497.0 L1326.9 497.7 L1327.9 499.7 L1328.9 496.4 L1329.9 493.1 L1330.9 502.6 L1331.9 497.9 L1332.9 489.4 L1333.9 499.3 L1334.9 497.1 L1335.9 495.8 L1336.9 496.5 L1337.9 498.8 L1338.9 496.7 L1339.9 500.1 L1340.9 499.3 L1341.9 499.6 L1342.9 501.8 L1343.9 501.8 L1344.9 505.8 L1345.9 502.9 L1346.9 499.1 L1347.9 502.2 L1348.9 507.3 L1349.9 507.6 L1350.9 500.6 L1351.9 505.0 L1352.9 501.9 L1353.9 502.6 L1354.9 499.1 L1355.9 499.0 L1356.9 503.0 L1357.9 504.7 L1358.9 505.6 L1359.9 501.8 L1360.9 503.7 L1361.9 504.9 L1362.9 504.2 L1363.9 496.7 L1364.9 501.8 L1365.9 505.2 L1366.9 506.7 L1367.9 502.4 L1368.9 508.1 L1369.9 496.5 L1370.9 508.8 L1371.9 503.0 L1372.9 504.9 L1373.9 501.9 L1374.9 500.8 L1375.9 502.9 L1376.9 503.5 L1377.9 499.4 L1378.9 504.4 L1379.9 500.2 L1380.9 501.0 L1381.9 498.0 L1382.9 497.5 L1383.9 498.6 L1384.9 494.1 L1385.9 499.2 L1386.9 492.6 L1387.9 496.6 L1388.9 491.2 L1389.9 492.9 L1390.9 490.5 L1391.9 495.2 L1392.9 495.6 L1393.9 488.4 L1394.9 489.9 L1395.9 488.3 L1396.9 488.9 L1397.9 489.0 L1398.9 490.7 L1399.9 485.1 L1400.9 479.1 L1401.9 485.8 L1402.9 482.2 L1403.9 482.4 L1404.9 485.9 L1405.9 486.4 L1406.9 481.9 L1407.9 484.9 L1408.9 482.3 L1409.9 483.1 L1410.9 480.3 L1411.9 484.5 L1412.9 478.9 L1413.9 481.1 L1414.9 484.1 L1415.9 479.3 L1416.9 484.0 L1417.9 485.2 L1418.9 487.4 L1419.9 491.1 L1420.9 481.1 L1421.9 491.2 L1422.9 490.5 L1423.9 493.8 L1424.9 493.3 L1425.9 490.4 L1426.9 491.8 L1427.9 491.6 L1428.9 499.2 L1429.9 495.0 L1430.9 498.9 L1431.9 498.3 L1432.9 494.0 L1433.9 499.9 L1434.9 501.1 L1435.9 506.4 L1436.9 502.0 L1437.9 499.5 L1438.9 501.2 L1439.9 505.1 L1440.9 504.3 L1441.9 504.0 L1442.9 504.1 L1443.9 499.5 L1444.9 504.2 L1445.9 502.1 L1446.9 494.7 L1447.9 498.6 L1448.9 503.8 L1449.9 498.0 L1450.9 498.1 L1451.9 499.0 L1452.9 499.0 L1453.9 498.1 L1454.9 499.4 L1455.9 495.1 L1456.9 492.5 L1457.9 496.2 L1458.9 495.4 L1459.9 497.7 L1460.9 500.2 L1461.9 494.6 L1462.9 494.5 L1463.9 494.7 L1464.9 489.0 L1465.9 484.9 L1466.9 476.0 L1467.9 473.1 L1468.9 467.4 L1469.9 463.7 L1470.9 461.9 L1471.9 454.4 L1472.9 445.6 L1473.9 432.4 L1474.9 433.9 L1475.9 427.9 L1476.9 419.8 L1477.9 415.2 L1478.9 409.9 L1479.9 406.8 L1480.9 402.0 L1481.9 400.7 L1482.9 402.1 L1483.9 400.3 L1484.9 401.2 L1485.9 402.5 L1486.9 404.8 L1487.9 409.3 L1488.9 412.8 L1489.9 418.4 L1490.9 423.7 L1491.9 426.3 L1492.9 438.3 L1493.9 441.7 L1494.9 441.8 L1495.9 445.9 L1496.9 446.8 L1497.9 447.9 L1498.9 455.5 L1499.9 461.6 L1500.9 451.9 L1501.9 460.1 L1502.9 469.2 L1503.9 469.0 L1504.9 462.5 L1505.9 464.1 L1506.9 470.9 L1507.9 464.4 L1508.9 467.9 L1509.9 466.2 L1510.9 470.6 L1511.9 470.3 L1512.9 475.4 L1513.9 467.4 L1514.9 465.9 L1515.9 470.0 L1516.9 472.3 L1517.9 470.9 L1518.9 479.8 L1519.9 471.6 L1520.9 473.5 L1521.9 478.2 L1522.9 482.0 L1523.9 478.8 L1524.9 481.6 L1525.9 477.1 L1526.9 478.8 L1527.9 483.2 L1528.9 485.0 L1529.9 484.8 L1530.9 485.0 L1531.9 486.2 L1532.9 483.9 L1533.9 483.3 L1534.9 483.7 L1535.9 480.9 L1536.9 482.9 L1537.9 482.9 L1538.9 487.3 L1539.9 493.1 L1540.9 488.4 L1541.9 492.5 L1542.9 484.5 L1543.9 486.3 L1544.9 487.4 L1545.9 491.7 L1546.9 494.5 L1547.9 491.5 L1548.9 490.3 L1549.9 489.7 L1550.9 487.6 L1551.9 490.9 L1552.9 490.9 L1553.9 489.8 L1554.9 487.3 L1555.9 490.3 L1556.9 489.7 L1557.9 487.7 L1558.9 493.7 L1559.9 490.0 L1560.9 492.1 L1561.9 487.0 L1562.9 489.1 L1563.9 488.2 L1564.9 487.2 L1565.9 490.7 L1566.9 489.6 L1567.9 486.7 L1568.9 488.2 L1569.9 490.2 L1570.9 489.8 L1571.9 495.3 L1572.9 482.9 L1573.9 492.1 L1574.9 491.5 L1575.9 490.6 L1576.9 486.9 L1577.9 486.7 L1578.9 482.9 L1579.9 489.9 L1580.9 486.6 L1581.9 486.5 L1582.9 492.8 L1583.9 485.0 L1584.9 487.5 L1585.9 489.4 L1586.9 487.0 L1587.9 488.3 L1588.9 487.6 L1589.9 487.4 L1590.9 482.8 L1591.9 482.4 L1592.9 488.9 L1593.9 486.8 L1594.9 484.3 L1595.9 481.9 L1596.9 486.8 L1597.9 480.1 L1598.9 477.1 L1599.9 481.9 L1600.9 475.3 L1601.9 476.7 L1602.9 477.6 L1603.9 473.4 L1604.9 477.0 L1605.9 476.6 L1606.9 476.8 L1607.9 474.4 L1608.9 479.1 L1609.9 474.2 L1610.9 472.7 L1611.9 474.8 L1612.9 472.1 L1613.9 466.3 L1614.9 476.8 L1615.9 468.2 L1616.9 467.6 L1617.9 474.4 L1618.9 471.6 L1619.9 476.9 L1620.9 476.9 L1621.9 477.4 L1622.9 473.9 L1623.9 475.9 L1624.9 471.7 L1625.9 477.8 L1626.9 475.8 L1627.9 476.0 L1628.9 477.2 L1629.9 477.4 L1630.9 478.8 L1631.9 480.3 L1632.9 478.1 L1633.9 477.3 L1634.9 475.1 L1635.9 484.1 L1636.9 480.7 L1637.9 479.1 L1638.9 475.8 L1639.9 482.4 L1640.9 477.4 L1641.9 482.3 L1642.9 480.7 L1643.9 485.4 L1644.9 481.2 L1645.9 479.6 L1646.9 477.0 L1647.9 481.7 L1648.9 488.3 L1649.9 484.6 L1650.9 482.9 L1651.9 487.7 L1652.9 482.8 L1653.9 487.7 L1654.9 481.4 L1655.9 481.9 L1656.9 488.1 L1657.9 481.9 L1658.9 489.1 L1659.9 486.1 L1660.9 491.7 L1661.9 484.7 L1662.9 485.7 L1663.9 491.0 L1664.9 484.6 L1665.9 487.1 L1666.9 483.8 L1667.9 489.2 L1668.9 486.5 L1669.9 483.4 L1670.9 486.7 L1671.9 483.7 L1672.9 488.6 L1673.9 483.2 L1674.9 493.4 L1675.9 493.1 L1676.9 481.2 L1677.9 487.9 L1678.9 484.1 L1679.9 484.3 L1680.9 482.9 L1681.9 490.9 L1682.9 481.0 L1683.9 491.1 L1684.9 481.4 L1685.9 488.5 L1686.9 485.3 L1687.9 483.9 L1688.9 482.4 L1689.9 483.8 L1690.9 485.4 L1691.9 488.6 L1692.9 478.5 L1693.9 484.4 L1694.9 482.6 L1695.9 480.6 L1696.9 482.2 L1697.9 482.3 L1698.9 479.7 L1699.9 480.6 L1700.9 482.8 L1701.9 480.6 L1702.9 482.9 L1703.9 479.2 L1704.9 482.4 L1705.9 482.9 L1706.9 482.8 L1707.9 482.2 L1708.9 481.4 L1709.9 480.6 L1710.9 479.2 L1711.9 479.1 L1712.9 480.9 L1713.9 475.8 L1714.9 483.8 L1715.9 474.3 L1716.9 476.8 L1717.9 479.6 L1718.9 479.8" fill="none" stroke="#008000" stroke-width="2.6" stroke-linejoin="round"/>
<line x1="1275.5" y1="56.6" x2="1275.5" y2="575" stroke="#000" stroke-width="2.4" stroke-dasharray="10 9.46"/>
<line x1="1482.8" y1="263.2" x2="1482.8" y2="581" stroke="#000" stroke-width="2.4" stroke-dasharray="10 9.46"/>
<rect x="1065.4" y="22.3" width="762.7" height="567.5" fill="none" stroke="#000" stroke-width="2.2"/>
<path d="M1134.7 589.8V578.3M1204 589.8V583.3M1273.3 589.8V578.3M1342.5 589.8V583.3M1411.8 589.8V578.3M1481.1 589.8V583.3M1550.4 589.8V578.3M1619.7 589.8V583.3M1689 589.8V578.3M1758.2 589.8V583.3M1065.4 542.5H1071.9M1065.4 495.2H1076.9M1065.4 447.9H1071.9M1065.4 400.6H1076.9M1065.4 353.3H1071.9M1065.4 306H1076.9M1065.4 258.8H1071.9M1065.4 211.5H1076.9M1065.4 164.2H1071.9M1065.4 116.9H1076.9M1065.4 69.6H1071.9" stroke="#000" stroke-width="2.2" fill="none"/>
<text x="1134.7" y="621" font-size="24.1" text-anchor="middle">770</text>
<text x="1273.3" y="621" font-size="24.1" text-anchor="middle">780</text>
<text x="1411.8" y="621" font-size="24.1" text-anchor="middle">790</text>
<text x="1550.4" y="621" font-size="24.1" text-anchor="middle">800</text>
<text x="1689" y="621" font-size="24.1" text-anchor="middle">810</text>
<text x="1827.5" y="621" font-size="24.1" text-anchor="middle">820</text>
<text x="1052.5" y="32.2" font-size="24.1" text-anchor="end">60,000</text>
<text x="1052.5" y="127.3" font-size="24.1" text-anchor="end">55,000</text>
<text x="1052.3" y="219.6" font-size="24.1" text-anchor="end">50,000</text>
<text x="1052.3" y="314.1" font-size="24.1" text-anchor="end">45,000</text>
<text x="1051.8" y="408.2" font-size="24.1" text-anchor="end">40,000</text>
<text x="1051.8" y="503.4" font-size="24.1" text-anchor="end">35,000</text>
<text x="1052.2" y="597.7" font-size="24.1" text-anchor="end">30,000</text>
<rect x="1525.6" y="128" width="221.2" height="179" fill="#fff" stroke="#999999" stroke-width="1.5"/>
<line x1="1531.7" y1="146.7" x2="1598.1" y2="146.7" stroke="#000000" stroke-width="2.6"/>
<text x="1605.6" y="156.9" font-size="24.1">LMNCO</text>
<line x1="1531.7" y1="182.2" x2="1598.1" y2="182.2" stroke="#ff0000" stroke-width="2.6"/>
<text x="1605.6" y="192.4" font-size="24.1">nLMNCO-1.0</text>
<line x1="1531.7" y1="217.9" x2="1598.1" y2="217.9" stroke="#0000ff" stroke-width="2.6"/>
<text x="1605.6" y="228.1" font-size="24.1">nLMNCO-2.0</text>
<line x1="1531.7" y1="254.4" x2="1598.1" y2="254.4" stroke="#ff00ff" stroke-width="2.6"/>
<text x="1605.6" y="264.6" font-size="24.1">nLMNCO-3.0</text>
<line x1="1531.7" y1="290.5" x2="1598.1" y2="290.5" stroke="#008000" stroke-width="2.6"/>
<text x="1605.6" y="300.7" font-size="24.1">nLMNCO-4.0</text>
<text x="1098" y="73" font-size="24.1">Co 2p</text>
<text x="1210.4" y="124.3" font-size="24.1">2p3/2</text>
<text x="1414" y="282.1" font-size="24.1">2p1/2</text>
<text x="1747.8" y="75.4" font-size="47" font-weight="bold">(b)</text>
<text x="1341.8" y="667.7" font-size="24.1">Binding Energy /(eV)</text>
<text transform="translate(955.3 396.1) rotate(-90)" x="0" y="0" font-size="24">Intensity /(a.u.)</text>
</svg></body></html>
